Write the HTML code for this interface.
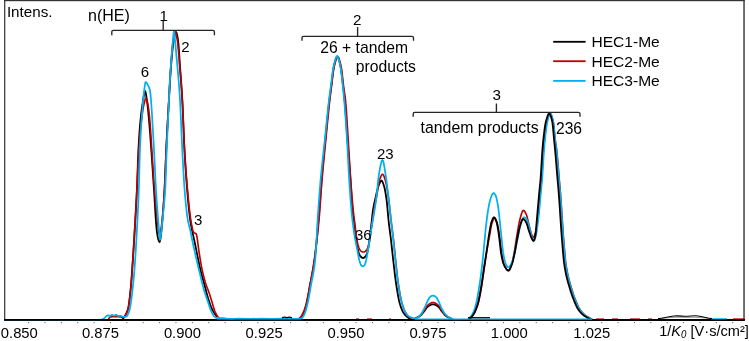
<!DOCTYPE html>
<html><head><meta charset="utf-8"><title>Mobilogram</title>
<style>
html,body{margin:0;padding:0;background:#fff;}
body{width:749px;height:341px;overflow:hidden;position:relative;font-family:"Liberation Sans",Arial,sans-serif;}
svg{position:absolute;left:0;top:0;display:block;}
text{font-family:"Liberation Sans",Arial,sans-serif;fill:#000;}
svg{font-size:15px;}
</style></head><body>
<svg width="749" height="341" viewBox="0 0 749 341">
<rect x="0" y="0" width="749" height="341" fill="#fff"/>
<!-- frame -->
<rect x="4" y="0" width="740.8" height="1.2" fill="#333"/>
<rect x="4.1" y="0" width="1.2" height="320" fill="#333"/>
<rect x="743.3" y="0" width="1.45" height="320" fill="#3c3c3c"/>
<rect x="28.10" y="322" width="1" height="1.2" fill="#666"/><rect x="44.48" y="322" width="1" height="1.2" fill="#666"/><rect x="60.85" y="322" width="1" height="1.2" fill="#666"/><rect x="77.22" y="322" width="1" height="1.2" fill="#666"/><rect x="93.60" y="322" width="1" height="1.2" fill="#666"/><rect x="109.97" y="322" width="1" height="1.2" fill="#666"/><rect x="126.35" y="322" width="1" height="1.2" fill="#666"/><rect x="142.72" y="322" width="1" height="1.2" fill="#666"/><rect x="159.10" y="322" width="1" height="1.2" fill="#666"/><rect x="175.47" y="322" width="1" height="1.2" fill="#666"/><rect x="191.85" y="322" width="1" height="1.2" fill="#666"/><rect x="208.22" y="322" width="1" height="1.2" fill="#666"/><rect x="224.60" y="322" width="1" height="1.2" fill="#666"/><rect x="240.97" y="322" width="1" height="1.2" fill="#666"/><rect x="257.35" y="322" width="1" height="1.2" fill="#666"/><rect x="273.73" y="322" width="1" height="1.2" fill="#666"/><rect x="290.10" y="322" width="1" height="1.2" fill="#666"/><rect x="306.48" y="322" width="1" height="1.2" fill="#666"/><rect x="322.85" y="322" width="1" height="1.2" fill="#666"/><rect x="339.23" y="322" width="1" height="1.2" fill="#666"/><rect x="355.60" y="322" width="1" height="1.2" fill="#666"/><rect x="371.98" y="322" width="1" height="1.2" fill="#666"/><rect x="388.35" y="322" width="1" height="1.2" fill="#666"/><rect x="404.73" y="322" width="1" height="1.2" fill="#666"/><rect x="421.10" y="322" width="1" height="1.2" fill="#666"/><rect x="437.48" y="322" width="1" height="1.2" fill="#666"/><rect x="453.85" y="322" width="1" height="1.2" fill="#666"/><rect x="470.23" y="322" width="1" height="1.2" fill="#666"/><rect x="486.60" y="322" width="1" height="1.2" fill="#666"/><rect x="502.98" y="322" width="1" height="1.2" fill="#666"/><rect x="519.35" y="322" width="1" height="1.2" fill="#666"/><rect x="535.73" y="322" width="1" height="1.2" fill="#666"/><rect x="552.10" y="322" width="1" height="1.2" fill="#666"/><rect x="568.48" y="322" width="1" height="1.2" fill="#666"/><rect x="584.85" y="322" width="1" height="1.2" fill="#666"/><rect x="601.23" y="322" width="1" height="1.2" fill="#666"/><rect x="617.60" y="322" width="1" height="1.2" fill="#666"/><rect x="633.98" y="322" width="1" height="1.2" fill="#666"/><rect x="650.35" y="322" width="1" height="1.2" fill="#666"/><rect x="666.73" y="322" width="1" height="1.2" fill="#666"/><rect x="683.10" y="322" width="1" height="1.2" fill="#666"/><rect x="699.48" y="322" width="1" height="1.2" fill="#666"/><rect x="715.85" y="322" width="1" height="1.2" fill="#666"/><rect x="732.23" y="322" width="1" height="1.2" fill="#666"/>
<!-- axis -->
<rect x="4.1" y="319" width="740.7" height="1.8" fill="#000"/>
<!-- curves -->
<path d="M4.0,319.90 L4.5,319.90 L5.0,319.90 L5.5,319.90 L6.0,319.90 L6.5,319.90 L7.0,319.90 L7.5,319.90 L8.0,319.90 L8.5,319.90 L9.0,319.90 L9.5,319.90 L10.0,319.90 L10.5,319.90 L11.0,319.90 L11.5,319.90 L12.0,319.90 L12.5,319.90 L13.0,319.90 L13.5,319.90 L14.0,319.90 L14.5,319.90 L15.0,319.90 L15.5,319.90 L16.0,319.90 L16.5,319.90 L17.0,319.90 L17.5,319.90 L18.0,319.90 L18.5,319.90 L19.0,319.90 L19.5,319.90 L20.0,319.90 L20.5,319.90 L21.0,319.90 L21.5,319.90 L22.0,319.90 L22.5,319.90 L23.0,319.90 L23.5,319.90 L24.0,319.90 L24.5,319.90 L25.0,319.90 L25.5,319.90 L26.0,319.90 L26.5,319.90 L27.0,319.90 L27.5,319.90 L28.0,319.90 L28.5,319.90 L29.0,319.90 L29.5,319.90 L30.0,319.90 L30.5,319.90 L31.0,319.90 L31.5,319.90 L32.0,319.90 L32.5,319.90 L33.0,319.90 L33.5,319.90 L34.0,319.90 L34.5,319.90 L35.0,319.90 L35.5,319.90 L36.0,319.90 L36.5,319.90 L37.0,319.90 L37.5,319.90 L38.0,319.90 L38.5,319.90 L39.0,319.90 L39.5,319.90 L40.0,319.90 L40.5,319.90 L41.0,319.90 L41.5,319.90 L42.0,319.90 L42.5,319.90 L43.0,319.90 L43.5,319.90 L44.0,319.90 L44.5,319.90 L45.0,319.90 L45.5,319.90 L46.0,319.90 L46.5,319.90 L47.0,319.90 L47.5,319.90 L48.0,319.90 L48.5,319.90 L49.0,319.90 L49.5,319.90 L50.0,319.90 L50.5,319.90 L51.0,319.90 L51.5,319.90 L52.0,319.90 L52.5,319.90 L53.0,319.90 L53.5,319.90 L54.0,319.90 L54.5,319.90 L55.0,319.90 L55.5,319.90 L56.0,319.90 L56.5,319.90 L57.0,319.90 L57.5,319.90 L58.0,319.90 L58.5,319.90 L59.0,319.90 L59.5,319.90 L60.0,319.90 L60.5,319.90 L61.0,319.90 L61.5,319.90 L62.0,319.90 L62.5,319.90 L63.0,319.90 L63.5,319.90 L64.0,319.90 L64.5,319.90 L65.0,319.90 L65.5,319.90 L66.0,319.90 L66.5,319.90 L67.0,319.90 L67.5,319.90 L68.0,319.90 L68.5,319.90 L69.0,319.90 L69.5,319.90 L70.0,319.90 L70.5,319.90 L71.0,319.90 L71.5,319.90 L72.0,319.90 L72.5,319.90 L73.0,319.90 L73.5,319.90 L74.0,319.90 L74.5,319.90 L75.0,319.90 L75.5,319.90 L76.0,319.90 L76.5,319.90 L77.0,319.90 L77.5,319.90 L78.0,319.90 L78.5,319.90 L79.0,319.90 L79.5,319.90 L80.0,319.90 L80.5,319.90 L81.0,319.90 L81.5,319.90 L82.0,319.90 L82.5,319.90 L83.0,319.90 L83.5,319.90 L84.0,319.90 L84.5,319.90 L85.0,319.90 L85.5,319.90 L86.0,319.90 L86.5,319.90 L87.0,319.90 L87.5,319.90 L88.0,319.90 L88.5,319.90 L89.0,319.90 L89.5,319.90 L90.0,319.90 L90.5,319.90 L91.0,319.90 L91.5,319.90 L92.0,319.90 L92.5,319.90 L93.0,319.90 L93.5,319.90 L94.0,319.90 L94.5,319.90 L95.0,319.90 L95.5,319.90 L96.0,319.90 L96.5,319.90 L97.0,319.90 L97.5,319.90 L98.0,319.90 L98.5,319.90 L99.0,319.90 L99.5,319.90 L100.0,319.90 L100.5,319.90 L101.0,319.90 L101.5,319.90 L102.0,319.90 L102.5,319.90 L103.0,319.90 L103.5,319.90 L104.0,319.90 L104.5,319.90 L105.0,319.90 L105.5,319.90 L106.0,319.90 L106.5,319.90 L107.0,319.90 L107.5,319.90 L108.0,319.90 L108.5,319.90 L109.0,319.90 L109.5,319.90 L110.0,319.90 L110.5,319.90 L111.0,319.90 L111.5,319.90 L112.0,319.90 L112.5,319.90 L113.0,319.90 L113.5,319.90 L114.0,319.90 L114.5,319.90 L115.0,319.90 L115.5,319.90 L116.0,319.90 L116.5,319.90 L117.0,319.90 L117.5,319.90 L118.0,319.90 L118.5,319.90 L119.0,319.90 L119.5,319.90 L120.0,319.90 L120.5,319.90 L121.0,319.90 L121.5,319.80 L122.0,319.53 L122.5,319.12 L123.0,318.62 L123.5,318.07 L124.0,317.50 L124.5,316.83 L125.0,315.98 L125.5,315.02 L126.0,314.00 L126.5,312.98 L127.0,311.90 L127.5,310.61 L128.0,309.00 L128.5,306.71 L129.0,303.61 L129.5,299.84 L130.0,295.57 L130.5,290.95 L131.0,285.72 L131.5,279.33 L132.0,272.26 L132.5,265.00 L133.0,257.60 L133.5,249.81 L134.0,241.72 L134.5,233.38 L135.0,224.95 L135.5,216.53 L136.0,207.79 L136.5,198.34 L137.0,187.70 L137.5,173.92 L138.0,159.38 L138.5,148.13 L139.0,139.49 L139.5,131.96 L140.0,125.48 L140.5,120.00 L141.0,115.30 L141.5,111.14 L142.0,107.44 L142.5,104.09 L143.0,101.00 L143.5,97.75 L144.0,94.50 L144.5,92.00 L145.0,91.00 L145.5,91.95 L146.0,94.36 L146.5,97.59 L147.0,101.00 L147.5,104.78 L148.0,109.40 L148.5,114.56 L149.0,120.00 L149.5,125.81 L150.0,132.18 L150.5,138.91 L151.0,145.83 L151.5,152.80 L152.0,160.00 L152.5,167.42 L153.0,174.96 L153.5,182.52 L154.0,190.00 L154.5,197.93 L155.0,206.44 L155.5,214.80 L156.0,222.31 L156.5,228.23 L157.0,232.27 L157.5,235.59 L158.0,238.21 L158.5,240.00 L159.0,241.26 L159.5,241.98 L160.0,241.13 L160.5,238.56 L161.0,235.00 L161.5,230.00 L162.0,224.67 L162.5,218.93 L163.0,212.69 L163.5,205.85 L164.0,198.31 L164.5,190.00 L165.0,179.47 L165.5,166.87 L166.0,154.42 L166.5,143.83 L167.0,133.99 L167.5,124.62 L168.0,115.61 L168.5,106.87 L169.0,98.29 L169.5,89.60 L170.0,81.05 L170.5,73.11 L171.0,66.21 L171.5,60.35 L172.0,54.82 L172.5,49.77 L173.0,45.35 L173.5,41.73 L174.0,38.96 L174.5,36.41 L175.0,34.18 L175.5,32.60 L176.0,32.00 L176.5,32.67 L177.0,34.46 L177.5,37.02 L178.0,40.00 L178.5,44.62 L179.0,51.43 L179.5,59.11 L180.0,66.37 L180.5,73.12 L181.0,79.91 L181.5,87.04 L182.0,94.86 L182.5,103.81 L183.0,115.02 L183.5,127.44 L184.0,139.60 L184.5,150.00 L185.0,158.70 L185.5,166.76 L186.0,174.24 L186.5,181.16 L187.0,187.57 L187.5,193.56 L188.0,199.33 L188.5,204.79 L189.0,209.88 L189.5,214.49 L190.0,218.55 L190.5,221.99 L191.0,224.90 L191.5,227.51 L192.0,230.00 L192.5,232.41 L193.0,234.66 L193.5,236.86 L194.0,239.08 L194.5,241.40 L195.0,243.78 L195.5,246.21 L196.0,248.68 L196.5,251.16 L197.0,253.64 L197.5,256.11 L198.0,258.57 L198.5,260.98 L199.0,263.35 L199.5,265.65 L200.0,267.87 L200.5,270.00 L201.0,272.03 L201.5,273.98 L202.0,275.87 L202.5,277.71 L203.0,279.53 L203.5,281.34 L204.0,283.15 L204.5,285.00 L205.0,286.90 L205.5,288.83 L206.0,290.78 L206.5,292.70 L207.0,294.57 L207.5,296.34 L208.0,298.00 L208.5,299.57 L209.0,301.12 L209.5,302.62 L210.0,304.06 L210.5,305.44 L211.0,306.73 L211.5,307.92 L212.0,309.00 L212.5,309.99 L213.0,310.92 L213.5,311.79 L214.0,312.62 L214.5,313.39 L215.0,314.13 L215.5,314.83 L216.0,315.50 L216.5,316.19 L217.0,316.93 L217.5,317.66 L218.0,318.36 L218.5,318.97 L219.0,319.46 L219.5,319.78 L220.0,319.90 L220.5,319.90 L221.0,319.90 L221.5,319.90 L222.0,319.90 L222.5,319.90 L223.0,319.90 L223.5,319.90 L224.0,319.90 L224.5,319.90 L225.0,319.90 L225.5,319.90 L226.0,319.90 L226.5,319.90 L227.0,319.90 L227.5,319.90 L228.0,319.90 L228.5,319.90 L229.0,319.90 L229.5,319.90 L230.0,319.90 L230.5,319.90 L231.0,319.90 L231.5,319.90 L232.0,319.90 L232.5,319.90 L233.0,319.90 L233.5,319.90 L234.0,319.90 L234.5,319.90 L235.0,319.90 L235.5,319.90 L236.0,319.90 L236.5,319.90 L237.0,319.90 L237.5,319.90 L238.0,319.90 L238.5,319.90 L239.0,319.90 L239.5,319.90 L240.0,319.90 L240.5,319.90 L241.0,319.90 L241.5,319.90 L242.0,319.90 L242.5,319.90 L243.0,319.90 L243.5,319.90 L244.0,319.90 L244.5,319.90 L245.0,319.90 L245.5,319.90 L246.0,319.90 L246.5,319.90 L247.0,319.90 L247.5,319.90 L248.0,319.90 L248.5,319.90 L249.0,319.90 L249.5,319.90 L250.0,319.90 L250.5,319.90 L251.0,319.90 L251.5,319.90 L252.0,319.90 L252.5,319.90 L253.0,319.90 L253.5,319.90 L254.0,319.90 L254.5,319.90 L255.0,319.90 L255.5,319.90 L256.0,319.90 L256.5,319.90 L257.0,319.90 L257.5,319.90 L258.0,319.90 L258.5,319.90 L259.0,319.90 L259.5,319.90 L260.0,319.90 L260.5,319.90 L261.0,319.90 L261.5,319.90 L262.0,319.90 L262.5,319.90 L263.0,319.90 L263.5,319.90 L264.0,319.90 L264.5,319.90 L265.0,319.90 L265.5,319.90 L266.0,319.90 L266.5,319.90 L267.0,319.90 L267.5,319.90 L268.0,319.90 L268.5,319.90 L269.0,319.90 L269.5,319.90 L270.0,319.90 L270.5,319.90 L271.0,319.90 L271.5,319.90 L272.0,319.90 L272.5,319.90 L273.0,319.90 L273.5,319.90 L274.0,319.90 L274.5,319.90 L275.0,319.90 L275.5,319.90 L276.0,319.90 L276.5,319.90 L277.0,319.90 L277.5,319.90 L278.0,319.90 L278.5,319.90 L279.0,319.90 L279.5,319.90 L280.0,319.90 L280.5,319.90 L281.0,319.90 L281.5,319.90 L282.0,319.90 L282.5,319.90 L283.0,319.90 L283.5,319.90 L284.0,319.90 L284.5,319.90 L285.0,319.90 L285.5,319.90 L286.0,319.90 L286.5,319.90 L287.0,319.90 L287.5,319.90 L288.0,319.90 L288.5,319.90 L289.0,319.90 L289.5,319.90 L290.0,319.90 L290.5,319.90 L291.0,319.90 L291.5,319.90 L292.0,319.90 L292.5,319.90 L293.0,319.90 L293.5,319.90 L294.0,319.90 L294.5,319.90 L295.0,319.90 L295.5,319.90 L296.0,319.90 L296.5,319.86 L297.0,319.74 L297.5,319.55 L298.0,319.31 L298.5,319.02 L299.0,318.70 L299.5,318.36 L300.0,318.00 L300.5,317.58 L301.0,317.05 L301.5,316.42 L302.0,315.70 L302.5,314.89 L303.0,314.00 L303.5,312.96 L304.0,311.71 L304.5,310.27 L305.0,308.67 L305.5,306.95 L306.0,305.13 L306.5,303.22 L307.0,301.04 L307.5,298.62 L308.0,296.02 L308.5,293.29 L309.0,290.50 L309.5,287.72 L310.0,285.00 L310.5,282.39 L311.0,279.86 L311.5,277.36 L312.0,274.83 L312.5,272.23 L313.0,269.49 L313.5,266.58 L314.0,263.43 L314.5,260.00 L315.0,256.15 L315.5,251.83 L316.0,247.12 L316.5,242.07 L317.0,236.77 L317.5,231.28 L318.0,225.66 L318.5,220.00 L319.0,214.03 L319.5,207.58 L320.0,200.86 L320.5,194.08 L321.0,187.46 L321.5,181.19 L322.0,175.34 L322.5,169.67 L323.0,164.15 L323.5,158.76 L324.0,153.46 L324.5,148.25 L325.0,143.08 L325.5,137.94 L326.0,132.78 L326.5,127.63 L327.0,122.53 L327.5,117.51 L328.0,112.63 L328.5,107.92 L329.0,103.42 L329.5,99.18 L330.0,95.30 L330.5,91.64 L331.0,88.00 L331.5,84.08 L332.0,79.90 L332.5,75.75 L333.0,71.87 L333.5,68.53 L334.0,66.00 L334.5,63.96 L335.0,61.98 L335.5,60.17 L336.0,58.62 L336.5,57.43 L337.0,56.69 L337.5,56.52 L338.0,57.01 L338.5,58.12 L339.0,59.70 L339.5,61.63 L340.0,63.78 L340.5,66.00 L341.0,68.72 L341.5,72.28 L342.0,76.41 L342.5,80.86 L343.0,85.37 L343.5,89.71 L344.0,94.09 L344.5,98.94 L345.0,104.64 L345.5,111.17 L346.0,118.27 L346.5,125.63 L347.0,132.97 L347.5,140.00 L348.0,146.69 L348.5,153.25 L349.0,159.77 L349.5,166.34 L350.0,173.06 L350.5,180.00 L351.0,187.74 L351.5,196.04 L352.0,203.83 L352.5,210.00 L353.0,214.42 L353.5,218.02 L354.0,221.37 L354.5,225.00 L355.0,229.19 L355.5,233.57 L356.0,237.76 L356.5,241.39 L357.0,244.67 L357.5,247.51 L358.0,249.87 L358.5,251.94 L359.0,253.50 L359.5,254.67 L360.0,255.67 L360.5,256.47 L361.0,257.00 L361.5,257.38 L362.0,257.69 L362.5,257.92 L363.0,258.00 L363.5,257.92 L364.0,257.69 L364.5,257.38 L365.0,257.00 L365.5,256.47 L366.0,255.69 L366.5,254.69 L367.0,253.50 L367.5,251.82 L368.0,249.53 L368.5,246.89 L369.0,243.63 L369.5,240.00 L370.0,236.11 L370.5,231.92 L371.0,227.59 L371.5,223.22 L372.0,218.46 L372.5,213.82 L373.0,210.00 L373.5,207.07 L374.0,204.55 L374.5,202.28 L375.0,200.14 L375.5,198.00 L376.0,195.76 L376.5,193.50 L377.0,191.29 L377.5,189.24 L378.0,187.45 L378.5,186.00 L379.0,184.74 L379.5,183.50 L380.0,182.37 L380.5,181.45 L381.0,180.83 L381.5,180.60 L382.0,180.92 L382.5,181.76 L383.0,182.99 L383.5,184.45 L384.0,186.00 L384.5,187.79 L385.0,190.07 L385.5,192.78 L386.0,195.86 L386.5,199.28 L387.0,203.48 L387.5,208.97 L388.0,214.79 L388.5,220.00 L389.0,224.33 L389.5,228.29 L390.0,232.09 L390.5,235.92 L391.0,240.00 L391.5,244.41 L392.0,249.03 L392.5,253.69 L393.0,258.25 L393.5,262.61 L394.0,267.02 L394.5,271.37 L395.0,275.56 L395.5,279.48 L396.0,283.00 L396.5,286.26 L397.0,289.44 L397.5,292.48 L398.0,295.36 L398.5,298.02 L399.0,300.43 L399.5,302.55 L400.0,304.33 L400.5,305.92 L401.0,307.39 L401.5,308.74 L402.0,309.97 L402.5,311.06 L403.0,312.03 L403.5,312.85 L404.0,313.56 L404.5,314.22 L405.0,314.83 L405.5,315.38 L406.0,315.89 L406.5,316.35 L407.0,316.77 L407.5,317.15 L408.0,317.50 L408.5,317.83 L409.0,318.17 L409.5,318.50 L410.0,318.82 L410.5,319.11 L411.0,319.37 L411.5,319.59 L412.0,319.76 L412.5,319.86 L413.0,319.90 L413.5,319.80 L414.0,319.53 L414.5,319.16 L415.0,318.74 L415.5,318.34 L416.0,318.00 L416.5,317.74 L417.0,317.50 L417.5,317.28 L418.0,317.07 L418.5,316.84 L419.0,316.60 L419.5,316.32 L420.0,316.00 L420.5,315.61 L421.0,315.13 L421.5,314.59 L422.0,314.00 L422.5,313.37 L423.0,312.74 L423.5,312.11 L424.0,311.50 L424.5,310.87 L425.0,310.18 L425.5,309.46 L426.0,308.74 L426.5,308.05 L427.0,307.43 L427.5,306.90 L428.0,306.50 L428.5,306.17 L429.0,305.85 L429.5,305.54 L430.0,305.25 L430.5,304.99 L431.0,304.76 L431.5,304.57 L432.0,304.42 L432.5,304.33 L433.0,304.30 L433.5,304.33 L434.0,304.42 L434.5,304.57 L435.0,304.76 L435.5,304.99 L436.0,305.25 L436.5,305.54 L437.0,305.85 L437.5,306.17 L438.0,306.50 L438.5,306.90 L439.0,307.43 L439.5,308.05 L440.0,308.74 L440.5,309.46 L441.0,310.18 L441.5,310.87 L442.0,311.50 L442.5,312.11 L443.0,312.74 L443.5,313.37 L444.0,314.00 L444.5,314.59 L445.0,315.13 L445.5,315.61 L446.0,316.00 L446.5,316.32 L447.0,316.61 L447.5,316.87 L448.0,317.10 L448.5,317.33 L449.0,317.54 L449.5,317.77 L450.0,318.00 L450.5,318.27 L451.0,318.57 L451.5,318.89 L452.0,319.19 L452.5,319.47 L453.0,319.69 L453.5,319.85 L454.0,319.90 L454.5,319.90 L455.0,319.90 L455.5,319.90 L456.0,319.90 L456.5,319.90 L457.0,319.90 L457.5,319.90 L458.0,319.90 L458.5,319.90 L459.0,319.90 L459.5,319.90 L460.0,319.90" fill="none" stroke="#000" stroke-width="1.8" stroke-linejoin="round"/>
<path d="M4.0,319.90 L4.5,319.90 L5.0,319.90 L5.5,319.90 L6.0,319.90 L6.5,319.90 L7.0,319.90 L7.5,319.90 L8.0,319.90 L8.5,319.90 L9.0,319.90 L9.5,319.90 L10.0,319.90 L10.5,319.90 L11.0,319.90 L11.5,319.90 L12.0,319.90 L12.5,319.90 L13.0,319.90 L13.5,319.90 L14.0,319.90 L14.5,319.90 L15.0,319.90 L15.5,319.90 L16.0,319.90 L16.5,319.90 L17.0,319.90 L17.5,319.90 L18.0,319.90 L18.5,319.90 L19.0,319.90 L19.5,319.90 L20.0,319.90 L20.5,319.90 L21.0,319.90 L21.5,319.90 L22.0,319.90 L22.5,319.90 L23.0,319.90 L23.5,319.90 L24.0,319.90 L24.5,319.90 L25.0,319.90 L25.5,319.90 L26.0,319.90 L26.5,319.90 L27.0,319.90 L27.5,319.90 L28.0,319.90 L28.5,319.90 L29.0,319.90 L29.5,319.90 L30.0,319.90 L30.5,319.90 L31.0,319.90 L31.5,319.90 L32.0,319.90 L32.5,319.90 L33.0,319.90 L33.5,319.90 L34.0,319.90 L34.5,319.90 L35.0,319.90 L35.5,319.90 L36.0,319.90 L36.5,319.90 L37.0,319.90 L37.5,319.90 L38.0,319.90 L38.5,319.90 L39.0,319.90 L39.5,319.90 L40.0,319.90 L40.5,319.90 L41.0,319.90 L41.5,319.90 L42.0,319.90 L42.5,319.90 L43.0,319.90 L43.5,319.90 L44.0,319.90 L44.5,319.90 L45.0,319.90 L45.5,319.90 L46.0,319.90 L46.5,319.90 L47.0,319.90 L47.5,319.90 L48.0,319.90 L48.5,319.90 L49.0,319.90 L49.5,319.90 L50.0,319.90 L50.5,319.90 L51.0,319.90 L51.5,319.90 L52.0,319.90 L52.5,319.90 L53.0,319.90 L53.5,319.90 L54.0,319.90 L54.5,319.90 L55.0,319.90 L55.5,319.90 L56.0,319.90 L56.5,319.90 L57.0,319.90 L57.5,319.90 L58.0,319.90 L58.5,319.90 L59.0,319.90 L59.5,319.90 L60.0,319.90 L60.5,319.90 L61.0,319.90 L61.5,319.90 L62.0,319.90 L62.5,319.90 L63.0,319.90 L63.5,319.90 L64.0,319.90 L64.5,319.90 L65.0,319.90 L65.5,319.90 L66.0,319.90 L66.5,319.90 L67.0,319.90 L67.5,319.90 L68.0,319.90 L68.5,319.90 L69.0,319.90 L69.5,319.90 L70.0,319.90 L70.5,319.90 L71.0,319.90 L71.5,319.90 L72.0,319.90 L72.5,319.90 L73.0,319.90 L73.5,319.90 L74.0,319.90 L74.5,319.90 L75.0,319.90 L75.5,319.90 L76.0,319.90 L76.5,319.90 L77.0,319.90 L77.5,319.90 L78.0,319.90 L78.5,319.90 L79.0,319.90 L79.5,319.90 L80.0,319.90 L80.5,319.90 L81.0,319.90 L81.5,319.90 L82.0,319.90 L82.5,319.90 L83.0,319.90 L83.5,319.90 L84.0,319.90 L84.5,319.90 L85.0,319.90 L85.5,319.90 L86.0,319.90 L86.5,319.90 L87.0,319.90 L87.5,319.90 L88.0,319.90 L88.5,319.90 L89.0,319.90 L89.5,319.90 L90.0,319.90 L90.5,319.90 L91.0,319.90 L91.5,319.90 L92.0,319.90 L92.5,319.90 L93.0,319.90 L93.5,319.90 L94.0,319.90 L94.5,319.90 L95.0,319.90 L95.5,319.90 L96.0,319.90 L96.5,319.90 L97.0,319.90 L97.5,319.90 L98.0,319.90 L98.5,319.90 L99.0,319.90 L99.5,319.90 L100.0,319.90 L100.5,319.90 L101.0,319.90 L101.5,319.90 L102.0,319.90 L102.5,319.90 L103.0,319.90 L103.5,319.90 L104.0,319.90 L104.5,319.90 L105.0,319.90 L105.5,319.90 L106.0,319.90 L106.5,319.90 L107.0,319.90 L107.5,319.90 L108.0,319.90 L108.5,319.46 L109.0,318.49 L109.5,317.50 L110.0,317.00 L110.5,316.93 L111.0,316.87 L111.5,316.81 L112.0,316.76 L112.5,316.72 L113.0,316.69 L113.5,316.66 L114.0,316.64 L114.5,316.62 L115.0,316.61 L115.5,316.60 L116.0,316.60 L116.5,316.61 L117.0,316.62 L117.5,316.65 L118.0,316.68 L118.5,316.73 L119.0,316.77 L119.5,316.83 L120.0,316.88 L120.5,316.94 L121.0,317.00 L121.5,317.09 L122.0,317.22 L122.5,317.35 L123.0,317.46 L123.5,317.50 L124.0,317.28 L124.5,316.70 L125.0,315.88 L125.5,314.94 L126.0,314.00 L126.5,313.05 L127.0,311.96 L127.5,310.64 L128.0,309.00 L128.5,306.71 L129.0,303.61 L129.5,299.84 L130.0,295.57 L130.5,290.95 L131.0,285.72 L131.5,279.33 L132.0,272.26 L132.5,265.00 L133.0,257.60 L133.5,249.81 L134.0,241.72 L134.5,233.38 L135.0,224.86 L135.5,216.10 L136.0,207.06 L136.5,197.71 L137.0,188.00 L137.5,176.98 L138.0,165.46 L138.5,155.05 L139.0,147.10 L139.5,140.40 L140.0,134.42 L140.5,129.08 L141.0,124.30 L141.5,120.00 L142.0,116.04 L142.5,112.38 L143.0,109.12 L143.5,106.37 L144.0,104.15 L144.5,102.01 L145.0,100.10 L145.5,98.73 L146.0,98.20 L146.5,98.81 L147.0,100.38 L147.5,102.57 L148.0,105.00 L148.5,108.03 L149.0,112.07 L149.5,116.87 L150.0,122.30 L150.5,129.27 L151.0,137.27 L151.5,145.41 L152.0,152.95 L152.5,160.44 L153.0,167.95 L153.5,175.29 L154.0,182.30 L154.5,188.78 L155.0,194.82 L155.5,200.81 L156.0,206.63 L156.5,212.17 L157.0,217.32 L157.5,221.95 L158.0,225.95 L158.5,229.31 L159.0,232.60 L159.5,234.94 L160.0,235.16 L160.5,232.91 L161.0,229.42 L161.5,225.80 L162.0,221.57 L162.5,216.64 L163.0,211.01 L163.5,204.69 L164.0,197.69 L164.5,190.00 L165.0,179.83 L165.5,167.11 L166.0,154.45 L166.5,143.86 L167.0,134.14 L167.5,124.91 L168.0,115.97 L168.5,107.13 L169.0,98.19 L169.5,88.86 L170.0,79.55 L170.5,70.94 L171.0,63.66 L171.5,57.11 L172.0,51.06 L172.5,45.73 L173.0,41.40 L173.5,38.02 L174.0,34.86 L174.5,32.45 L175.0,31.50 L175.5,32.06 L176.0,33.57 L176.5,35.75 L177.0,38.35 L177.5,41.27 L178.0,45.66 L178.5,51.30 L179.0,57.55 L179.5,63.81 L180.0,69.66 L180.5,75.46 L181.0,81.48 L181.5,87.97 L182.0,95.20 L182.5,103.64 L183.0,114.80 L183.5,127.46 L184.0,139.80 L184.5,150.00 L185.0,158.12 L185.5,165.50 L186.0,172.27 L186.5,178.53 L187.0,184.41 L187.5,190.00 L188.0,195.41 L188.5,200.62 L189.0,205.56 L189.5,210.15 L190.0,214.32 L190.5,218.00 L191.0,221.21 L191.5,224.05 L192.0,226.59 L192.5,228.96 L193.0,231.23 L193.5,232.24 L194.0,232.66 L194.5,232.95 L195.0,233.17 L195.5,233.32 L196.0,233.60 L196.5,234.82 L197.0,237.00 L197.5,240.31 L198.0,244.48 L198.5,248.11 L199.0,251.56 L199.5,254.88 L200.0,258.00 L200.5,260.97 L201.0,263.83 L201.5,266.54 L202.0,269.06 L202.5,271.37 L203.0,273.57 L203.5,275.67 L204.0,277.67 L204.5,279.55 L205.0,281.33 L205.5,283.00 L206.0,284.53 L206.5,285.93 L207.0,287.24 L207.5,288.52 L208.0,289.81 L208.5,291.15 L209.0,292.59 L209.5,294.08 L210.0,295.62 L210.5,297.19 L211.0,298.78 L211.5,300.39 L212.0,302.00 L212.5,303.70 L213.0,305.48 L213.5,307.24 L214.0,308.87 L214.5,310.26 L215.0,311.51 L215.5,312.67 L216.0,313.74 L216.5,314.69 L217.0,315.50 L217.5,316.26 L218.0,317.02 L218.5,317.76 L219.0,318.44 L219.5,319.03 L220.0,319.49 L220.5,319.79 L221.0,319.90 L221.5,319.90 L222.0,319.90 L222.5,319.90 L223.0,319.90 L223.5,319.90 L224.0,319.90 L224.5,319.90 L225.0,319.90 L225.5,319.90 L226.0,319.90 L226.5,319.90 L227.0,319.90 L227.5,319.90 L228.0,319.90 L228.5,319.90 L229.0,319.90 L229.5,319.90 L230.0,319.90 L230.5,319.90 L231.0,319.90 L231.5,319.90 L232.0,319.90 L232.5,319.90 L233.0,319.90 L233.5,319.90 L234.0,319.90 L234.5,319.90 L235.0,319.90 L235.5,319.90 L236.0,319.90 L236.5,319.90 L237.0,319.90 L237.5,319.90 L238.0,319.90 L238.5,319.90 L239.0,319.90 L239.5,319.90 L240.0,319.90 L240.5,319.90 L241.0,319.90 L241.5,319.90 L242.0,319.90 L242.5,319.90 L243.0,319.90 L243.5,319.90 L244.0,319.90 L244.5,319.90 L245.0,319.90 L245.5,319.90 L246.0,319.90 L246.5,319.90 L247.0,319.90 L247.5,319.90 L248.0,319.90 L248.5,319.90 L249.0,319.90 L249.5,319.90 L250.0,319.90 L250.5,319.90 L251.0,319.90 L251.5,319.90 L252.0,319.90 L252.5,319.90 L253.0,319.90 L253.5,319.90 L254.0,319.90 L254.5,319.90 L255.0,319.90 L255.5,319.90 L256.0,319.90 L256.5,319.90 L257.0,319.90 L257.5,319.90 L258.0,319.90 L258.5,319.90 L259.0,319.90 L259.5,319.90 L260.0,319.90 L260.5,319.90 L261.0,319.90 L261.5,319.90 L262.0,319.90 L262.5,319.90 L263.0,319.90 L263.5,319.90 L264.0,319.90 L264.5,319.90 L265.0,319.90 L265.5,319.90 L266.0,319.90 L266.5,319.90 L267.0,319.90 L267.5,319.90 L268.0,319.90 L268.5,319.90 L269.0,319.90 L269.5,319.90 L270.0,319.90 L270.5,319.90 L271.0,319.90 L271.5,319.90 L272.0,319.90 L272.5,319.90 L273.0,319.90 L273.5,319.90 L274.0,319.90 L274.5,319.90 L275.0,319.90 L275.5,319.90 L276.0,319.90 L276.5,319.90 L277.0,319.90 L277.5,319.90 L278.0,319.90 L278.5,319.90 L279.0,319.90 L279.5,319.90 L280.0,319.90 L280.5,319.90 L281.0,319.90 L281.5,319.90 L282.0,319.90 L282.5,319.90 L283.0,319.90 L283.5,319.90 L284.0,319.90 L284.5,319.90 L285.0,319.90 L285.5,319.90 L286.0,319.90 L286.5,319.90 L287.0,319.90 L287.5,319.90 L288.0,319.90 L288.5,319.90 L289.0,319.90 L289.5,319.90 L290.0,319.90 L290.5,319.90 L291.0,319.90 L291.5,319.90 L292.0,319.90 L292.5,319.90 L293.0,319.90 L293.5,319.90 L294.0,319.90 L294.5,319.90 L295.0,319.90 L295.5,319.87 L296.0,319.80 L296.5,319.67 L297.0,319.51 L297.5,319.30 L298.0,319.06 L298.5,318.80 L299.0,318.51 L299.5,318.19 L300.0,317.85 L300.5,317.34 L301.0,316.67 L301.5,315.86 L302.0,314.96 L302.5,313.99 L303.0,313.00 L303.5,311.96 L304.0,310.81 L304.5,309.54 L305.0,308.17 L305.5,306.67 L306.0,305.04 L306.5,303.26 L307.0,301.17 L307.5,298.79 L308.0,296.19 L308.5,293.44 L309.0,290.61 L309.5,287.78 L310.0,285.00 L310.5,282.29 L311.0,279.60 L311.5,276.88 L312.0,274.12 L312.5,271.28 L313.0,268.34 L313.5,265.27 L314.0,262.03 L314.5,258.61 L315.0,255.05 L315.5,251.33 L316.0,247.46 L316.5,243.41 L317.0,239.17 L317.5,234.72 L318.0,230.05 L318.5,225.15 L319.0,220.00 L319.5,214.19 L320.0,207.56 L320.5,200.47 L321.0,193.28 L321.5,186.33 L322.0,180.00 L322.5,174.23 L323.0,168.72 L323.5,163.40 L324.0,158.23 L324.5,153.16 L325.0,148.12 L325.5,143.06 L326.0,137.94 L326.5,132.75 L327.0,127.53 L327.5,122.33 L328.0,117.20 L328.5,112.18 L329.0,107.32 L329.5,102.67 L330.0,98.28 L330.5,94.20 L331.0,90.30 L331.5,86.43 L332.0,82.28 L332.5,78.04 L333.0,73.97 L333.5,70.31 L334.0,67.35 L334.5,65.23 L335.0,63.34 L335.5,61.55 L336.0,59.96 L336.5,58.63 L337.0,57.65 L337.5,57.10 L338.0,57.05 L338.5,57.60 L339.0,58.67 L339.5,60.15 L340.0,61.93 L340.5,63.92 L341.0,66.00 L341.5,68.72 L342.0,72.44 L342.5,76.77 L343.0,81.30 L343.5,85.65 L344.0,89.42 L344.5,92.64 L345.0,95.95 L345.5,100.00 L346.0,105.54 L346.5,112.50 L347.0,120.38 L347.5,128.67 L348.0,136.86 L348.5,144.73 L349.0,152.97 L349.5,161.36 L350.0,169.54 L350.5,177.18 L351.0,184.07 L351.5,190.63 L352.0,196.85 L352.5,202.66 L353.0,208.01 L353.5,212.81 L354.0,217.10 L354.5,221.09 L355.0,225.00 L355.5,229.04 L356.0,233.07 L356.5,236.82 L357.0,240.00 L357.5,242.67 L358.0,244.93 L358.5,246.62 L359.0,248.02 L359.5,249.17 L360.0,250.00 L360.5,250.60 L361.0,251.09 L361.5,251.45 L362.0,251.68 L362.5,251.86 L363.0,251.98 L363.5,251.99 L364.0,251.89 L364.5,251.72 L365.0,251.51 L365.5,251.17 L366.0,250.71 L366.5,250.13 L367.0,249.36 L367.5,248.27 L368.0,246.92 L368.5,245.31 L369.0,243.13 L369.5,240.54 L370.0,237.65 L370.5,234.30 L371.0,230.71 L371.5,227.10 L372.0,223.62 L372.5,220.09 L373.0,216.55 L373.5,213.14 L374.0,210.00 L374.5,207.18 L375.0,204.58 L375.5,202.10 L376.0,199.63 L376.5,197.07 L377.0,194.27 L377.5,191.07 L378.0,187.75 L378.5,184.59 L379.0,181.91 L379.5,180.00 L380.0,178.60 L380.5,177.27 L381.0,176.10 L381.5,175.16 L382.0,174.50 L382.5,174.21 L383.0,174.40 L383.5,175.12 L384.0,176.27 L384.5,177.71 L385.0,179.33 L385.5,181.00 L386.0,182.91 L386.5,185.27 L387.0,188.02 L387.5,191.08 L388.0,194.39 L388.5,197.86 L389.0,201.51 L389.5,205.82 L390.0,210.60 L390.5,215.45 L391.0,220.00 L391.5,224.11 L392.0,228.02 L392.5,231.87 L393.0,235.81 L393.5,240.00 L394.0,244.56 L394.5,249.39 L395.0,254.29 L395.5,259.07 L396.0,263.75 L396.5,268.53 L397.0,273.23 L397.5,277.65 L398.0,281.60 L398.5,284.99 L399.0,288.19 L399.5,291.23 L400.0,294.08 L400.5,296.74 L401.0,299.18 L401.5,301.37 L402.0,303.30 L402.5,304.99 L403.0,306.56 L403.5,308.00 L404.0,309.33 L404.5,310.53 L405.0,311.60 L405.5,312.52 L406.0,313.30 L406.5,314.00 L407.0,314.63 L407.5,315.21 L408.0,315.75 L408.5,316.23 L409.0,316.69 L409.5,317.11 L410.0,317.50 L410.5,317.90 L411.0,318.31 L411.5,318.71 L412.0,319.08 L412.5,319.41 L413.0,319.67 L413.5,319.84 L414.0,319.90 L414.5,319.76 L415.0,319.41 L415.5,318.93 L416.0,318.43 L416.5,318.00 L417.0,317.65 L417.5,317.31 L418.0,316.99 L418.5,316.66 L419.0,316.31 L419.5,315.93 L420.0,315.50 L420.5,315.01 L421.0,314.46 L421.5,313.85 L422.0,313.20 L422.5,312.53 L423.0,311.85 L423.5,311.17 L424.0,310.50 L424.5,309.80 L425.0,309.04 L425.5,308.25 L426.0,307.47 L426.5,306.72 L427.0,306.03 L427.5,305.45 L428.0,305.00 L428.5,304.63 L429.0,304.26 L429.5,303.91 L430.0,303.58 L430.5,303.28 L431.0,303.02 L431.5,302.80 L432.0,302.64 L432.5,302.54 L433.0,302.50 L433.5,302.54 L434.0,302.64 L434.5,302.80 L435.0,303.02 L435.5,303.28 L436.0,303.58 L436.5,303.91 L437.0,304.26 L437.5,304.63 L438.0,305.00 L438.5,305.45 L439.0,306.03 L439.5,306.72 L440.0,307.47 L440.5,308.25 L441.0,309.04 L441.5,309.80 L442.0,310.50 L442.5,311.17 L443.0,311.86 L443.5,312.56 L444.0,313.24 L444.5,313.89 L445.0,314.50 L445.5,315.04 L446.0,315.50 L446.5,315.90 L447.0,316.26 L447.5,316.59 L448.0,316.90 L448.5,317.19 L449.0,317.46 L449.5,317.73 L450.0,318.00 L450.5,318.29 L451.0,318.60 L451.5,318.92 L452.0,319.22 L452.5,319.49 L453.0,319.70 L453.5,319.85 L454.0,319.90 L454.5,319.90 L455.0,319.90 L455.5,319.90 L456.0,319.90 L456.5,319.90 L457.0,319.90 L457.5,319.90 L458.0,319.90 L458.5,319.90 L459.0,319.90 L459.5,319.90 L460.0,319.90 L460.5,319.90 L461.0,319.90 L461.5,319.90 L462.0,319.90 L462.5,319.90 L463.0,319.90 L463.5,319.90 L464.0,319.90 L464.5,319.90 L465.0,319.90 L465.5,319.90 L466.0,319.90 L466.5,319.90 L467.0,319.90 L467.5,319.90 L468.0,319.90 L468.5,319.79 L469.0,319.50 L469.5,319.07 L470.0,318.57 L470.5,318.02 L471.0,317.50 L471.5,316.97 L472.0,316.39 L472.5,315.76 L473.0,315.06 L473.5,314.31 L474.0,313.50 L474.5,312.62 L475.0,311.67 L475.5,310.64 L476.0,309.52 L476.5,308.30 L477.0,306.98 L477.5,305.55 L478.0,304.00 L478.5,302.21 L479.0,300.11 L479.5,297.74 L480.0,295.18 L480.5,292.48 L481.0,289.69 L481.5,286.85 L482.0,283.76 L482.5,280.45 L483.0,277.00 L483.5,273.50 L484.0,270.03 L484.5,266.66 L485.0,263.25 L485.5,259.83 L486.0,256.43 L486.5,253.14 L487.0,250.00 L487.5,247.03 L488.0,244.18 L488.5,241.41 L489.0,238.70 L489.5,236.00 L490.0,233.15 L490.5,230.16 L491.0,227.30 L491.5,224.82 L492.0,223.00 L492.5,221.60 L493.0,220.28 L493.5,219.17 L494.0,218.38 L494.5,218.01 L495.0,218.18 L495.5,218.85 L496.0,219.88 L496.5,221.14 L497.0,222.50 L497.5,224.20 L498.0,226.48 L498.5,229.19 L499.0,232.20 L499.5,235.36 L500.0,238.94 L500.5,243.33 L501.0,247.91 L501.5,252.02 L502.0,255.14 L502.5,257.89 L503.0,260.40 L503.5,262.55 L504.0,264.25 L504.5,265.43 L505.0,266.46 L505.5,267.42 L506.0,268.30 L506.5,269.07 L507.0,269.71 L507.5,270.19 L508.0,270.49 L508.5,270.60 L509.0,270.37 L509.5,269.72 L510.0,268.74 L510.5,267.49 L511.0,266.07 L511.5,264.55 L512.0,263.00 L512.5,261.19 L513.0,258.92 L513.5,256.35 L514.0,253.64 L514.5,250.88 L515.0,247.86 L515.5,244.62 L516.0,241.30 L516.5,238.04 L517.0,235.00 L517.5,232.05 L518.0,229.05 L518.5,226.13 L519.0,223.40 L519.5,220.98 L520.0,219.00 L520.5,217.24 L521.0,215.48 L521.5,213.84 L522.0,212.40 L522.5,211.28 L523.0,210.59 L523.5,210.41 L524.0,210.64 L524.5,211.17 L525.0,211.93 L525.5,212.86 L526.0,213.91 L526.5,215.00 L527.0,216.44 L527.5,218.40 L528.0,220.64 L528.5,222.92 L529.0,225.00 L529.5,226.96 L530.0,228.96 L530.5,230.88 L531.0,232.60 L531.5,234.00 L532.0,235.25 L532.5,236.43 L533.0,237.26 L533.5,237.48 L534.0,236.86 L534.5,235.59 L535.0,233.99 L535.5,232.31 L536.0,230.21 L536.5,227.64 L537.0,224.68 L537.5,221.39 L538.0,217.69 L538.5,213.08 L539.0,207.79 L539.5,202.15 L540.0,196.46 L540.5,191.03 L541.0,186.17 L541.5,181.16 L542.0,174.44 L542.5,166.07 L543.0,157.45 L543.5,150.00 L544.0,144.02 L544.5,139.10 L545.0,134.67 L545.5,130.52 L546.0,126.84 L546.5,123.82 L547.0,121.62 L547.5,119.77 L548.0,118.03 L548.5,116.48 L549.0,115.21 L549.5,114.31 L550.0,113.84 L550.5,113.90 L551.0,114.49 L551.5,115.55 L552.0,116.99 L552.5,118.74 L553.0,120.72 L553.5,123.10 L554.0,127.47 L554.5,133.01 L555.0,138.28 L555.5,142.14 L556.0,145.21 L556.5,148.45 L557.0,152.70 L557.5,158.01 L558.0,164.01 L558.5,170.31 L559.0,176.50 L559.5,182.21 L560.0,187.65 L560.5,193.81 L561.0,200.74 L561.5,208.16 L562.0,215.81 L562.5,223.42 L563.0,230.74 L563.5,237.51 L564.0,243.67 L564.5,249.80 L565.0,255.59 L565.5,260.66 L566.0,264.60 L566.5,267.70 L567.0,270.51 L567.5,273.08 L568.0,275.43 L568.5,277.58 L569.0,279.58 L569.5,281.46 L570.0,283.23 L570.5,284.94 L571.0,286.62 L571.5,288.29 L572.0,289.97 L572.5,291.60 L573.0,293.16 L573.5,294.65 L574.0,296.07 L574.5,297.43 L575.0,298.74 L575.5,300.00 L576.0,301.23 L576.5,302.45 L577.0,303.63 L577.5,304.78 L578.0,305.87 L578.5,306.89 L579.0,307.83 L579.5,308.69 L580.0,309.45 L580.5,310.17 L581.0,310.84 L581.5,311.48 L582.0,312.09 L582.5,312.66 L583.0,313.19 L583.5,313.69 L584.0,314.16 L584.5,314.60 L585.0,315.01 L585.5,315.40 L586.0,315.76 L586.5,316.10 L587.0,316.43 L587.5,316.74 L588.0,317.04 L588.5,317.32 L589.0,317.60 L589.5,317.89 L590.0,318.19 L590.5,318.50 L591.0,318.80 L591.5,319.09 L592.0,319.35 L592.5,319.58 L593.0,319.75 L593.5,319.86 L594.0,319.90 L594.5,319.90 L595.0,319.90 L595.5,319.90 L596.0,319.90 L596.5,319.90 L597.0,319.90 L597.5,319.90 L598.0,319.90 L598.5,319.90 L599.0,319.90 L599.5,319.90 L600.0,319.90 L600.5,319.90 L601.0,319.90 L601.5,319.90 L602.0,319.90 L602.5,319.90 L603.0,319.90 L603.5,319.90 L604.0,319.90 L604.5,319.90 L605.0,319.90 L605.5,319.90 L606.0,319.90 L606.5,319.90 L607.0,319.90 L607.5,319.90 L608.0,319.90 L608.5,319.90 L609.0,319.90 L609.5,319.90 L610.0,319.90 L610.5,319.90 L611.0,319.90 L611.5,319.90 L612.0,319.90 L612.5,319.90 L613.0,319.90 L613.5,319.90 L614.0,319.90 L614.5,319.90 L615.0,319.90 L615.5,319.90 L616.0,319.90 L616.5,319.90 L617.0,319.90 L617.5,319.90 L618.0,319.90 L618.5,319.90 L619.0,319.90 L619.5,319.90 L620.0,319.90 L620.5,319.90 L621.0,319.90 L621.5,319.90 L622.0,319.90 L622.5,319.90 L623.0,319.90 L623.5,319.90 L624.0,319.90 L624.5,319.90 L625.0,319.90 L625.5,319.90 L626.0,319.90 L626.5,319.90 L627.0,319.90 L627.5,319.90 L628.0,319.90 L628.5,319.90 L629.0,319.90 L629.5,319.90 L630.0,319.90 L630.5,319.90 L631.0,319.90 L631.5,319.90 L632.0,319.90 L632.5,319.90 L633.0,319.90 L633.5,319.90 L634.0,319.90 L634.5,319.90 L635.0,319.90 L635.5,319.90 L636.0,319.90 L636.5,319.90 L637.0,319.90 L637.5,319.90 L638.0,319.90 L638.5,319.90 L639.0,319.90 L639.5,319.90 L640.0,319.90 L640.5,319.90 L641.0,319.90 L641.5,319.90 L642.0,319.90 L642.5,319.90 L643.0,319.90 L643.5,319.90 L644.0,319.90 L644.5,319.90 L645.0,319.90 L645.5,319.90 L646.0,319.90 L646.5,319.90 L647.0,319.90 L647.5,319.90 L648.0,319.90 L648.5,319.90 L649.0,319.90 L649.5,319.90 L650.0,319.90 L650.5,319.90 L651.0,319.90 L651.5,319.90 L652.0,319.90 L652.5,319.90 L653.0,319.90 L653.5,319.90 L654.0,319.90 L654.5,319.90 L655.0,319.90 L655.5,319.90 L656.0,319.90 L656.5,319.90 L657.0,319.90 L657.5,319.90 L658.0,319.90 L658.5,319.90 L659.0,319.90 L659.5,319.90 L660.0,319.90 L660.5,319.90 L661.0,319.90 L661.5,319.90 L662.0,319.90 L662.5,319.90 L663.0,319.90 L663.5,319.90 L664.0,319.90 L664.5,319.90 L665.0,319.90 L665.5,319.90 L666.0,319.90 L666.5,319.90 L667.0,319.90 L667.5,319.90 L668.0,319.90 L668.5,319.90 L669.0,319.90 L669.5,319.90 L670.0,319.90 L670.5,319.90 L671.0,319.90 L671.5,319.90 L672.0,319.90 L672.5,319.90 L673.0,319.90 L673.5,319.90 L674.0,319.90 L674.5,319.90 L675.0,319.90 L675.5,319.90 L676.0,319.90 L676.5,319.90 L677.0,319.90 L677.5,319.90 L678.0,319.90 L678.5,319.90 L679.0,319.90 L679.5,319.90 L680.0,319.90 L680.5,319.90 L681.0,319.90 L681.5,319.90 L682.0,319.90 L682.5,319.90 L683.0,319.90 L683.5,319.90 L684.0,319.90 L684.5,319.90 L685.0,319.90 L685.5,319.90 L686.0,319.90 L686.5,319.90 L687.0,319.90 L687.5,319.90 L688.0,319.90 L688.5,319.90 L689.0,319.90 L689.5,319.90 L690.0,319.90 L690.5,319.90 L691.0,319.90 L691.5,319.90 L692.0,319.90 L692.5,319.90 L693.0,319.90 L693.5,319.90 L694.0,319.90 L694.5,319.90 L695.0,319.90 L695.5,319.90 L696.0,319.90 L696.5,319.90 L697.0,319.90 L697.5,319.90 L698.0,319.90 L698.5,319.90 L699.0,319.90 L699.5,319.90 L700.0,319.90 L700.5,319.90 L701.0,319.90 L701.5,319.90 L702.0,319.90 L702.5,319.90 L703.0,319.90 L703.5,319.90 L704.0,319.90 L704.5,319.90 L705.0,319.90 L705.5,319.90 L706.0,319.90 L706.5,319.90 L707.0,319.90 L707.5,319.90 L708.0,319.90 L708.5,319.90 L709.0,319.90 L709.5,319.90 L710.0,319.90 L710.5,319.90 L711.0,319.90 L711.5,319.90 L712.0,319.90 L712.5,319.90 L713.0,319.90 L713.5,319.90 L714.0,319.90 L714.5,319.90 L715.0,319.90 L715.5,319.90 L716.0,319.90 L716.5,319.90 L717.0,319.90 L717.5,319.90 L718.0,319.90 L718.5,319.90 L719.0,319.90 L719.5,319.90 L720.0,319.90 L720.5,319.90 L721.0,319.90 L721.5,319.90 L722.0,319.90 L722.5,319.90 L723.0,319.90 L723.5,319.90 L724.0,319.90 L724.5,319.90 L725.0,319.90 L725.5,319.90 L726.0,319.90 L726.5,319.90 L727.0,319.90 L727.5,319.90 L728.0,319.90 L728.5,319.90 L729.0,319.90 L729.5,319.90 L730.0,319.90 L730.5,319.90 L731.0,319.90 L731.5,319.90 L732.0,319.90 L732.5,319.90 L733.0,319.90 L733.5,319.90 L734.0,319.90 L734.5,319.90 L735.0,319.90 L735.5,319.90 L736.0,319.90 L736.5,319.90 L737.0,319.90 L737.5,319.90 L738.0,319.90 L738.5,319.90 L739.0,319.90 L739.5,319.90 L740.0,319.90 L740.5,319.90 L741.0,319.90 L741.5,319.90 L742.0,319.90 L742.5,319.90 L743.0,319.90 L743.5,319.90 L744.0,319.90" fill="none" stroke="#c00000" stroke-width="1.65" stroke-linejoin="round"/>
<path d="M4.0,319.90 L4.5,319.90 L5.0,319.90 L5.5,319.90 L6.0,319.90 L6.5,319.90 L7.0,319.90 L7.5,319.90 L8.0,319.90 L8.5,319.90 L9.0,319.90 L9.5,319.90 L10.0,319.90 L10.5,319.90 L11.0,319.90 L11.5,319.90 L12.0,319.90 L12.5,319.90 L13.0,319.90 L13.5,319.90 L14.0,319.90 L14.5,319.90 L15.0,319.90 L15.5,319.90 L16.0,319.90 L16.5,319.90 L17.0,319.90 L17.5,319.90 L18.0,319.90 L18.5,319.90 L19.0,319.90 L19.5,319.90 L20.0,319.90 L20.5,319.90 L21.0,319.90 L21.5,319.90 L22.0,319.90 L22.5,319.90 L23.0,319.90 L23.5,319.90 L24.0,319.90 L24.5,319.90 L25.0,319.90 L25.5,319.90 L26.0,319.90 L26.5,319.90 L27.0,319.90 L27.5,319.90 L28.0,319.90 L28.5,319.90 L29.0,319.90 L29.5,319.90 L30.0,319.90 L30.5,319.90 L31.0,319.90 L31.5,319.90 L32.0,319.90 L32.5,319.90 L33.0,319.90 L33.5,319.90 L34.0,319.90 L34.5,319.90 L35.0,319.90 L35.5,319.90 L36.0,319.90 L36.5,319.90 L37.0,319.90 L37.5,319.90 L38.0,319.90 L38.5,319.90 L39.0,319.90 L39.5,319.90 L40.0,319.90 L40.5,319.90 L41.0,319.90 L41.5,319.90 L42.0,319.90 L42.5,319.90 L43.0,319.90 L43.5,319.90 L44.0,319.90 L44.5,319.90 L45.0,319.90 L45.5,319.90 L46.0,319.90 L46.5,319.90 L47.0,319.90 L47.5,319.90 L48.0,319.90 L48.5,319.90 L49.0,319.90 L49.5,319.90 L50.0,319.90 L50.5,319.90 L51.0,319.90 L51.5,319.90 L52.0,319.90 L52.5,319.90 L53.0,319.90 L53.5,319.90 L54.0,319.90 L54.5,319.90 L55.0,319.90 L55.5,319.90 L56.0,319.90 L56.5,319.90 L57.0,319.90 L57.5,319.90 L58.0,319.90 L58.5,319.90 L59.0,319.90 L59.5,319.90 L60.0,319.90 L60.5,319.90 L61.0,319.90 L61.5,319.90 L62.0,319.90 L62.5,319.90 L63.0,319.90 L63.5,319.90 L64.0,319.90 L64.5,319.90 L65.0,319.90 L65.5,319.90 L66.0,319.90 L66.5,319.90 L67.0,319.90 L67.5,319.90 L68.0,319.90 L68.5,319.90 L69.0,319.90 L69.5,319.90 L70.0,319.90 L70.5,319.90 L71.0,319.90 L71.5,319.90 L72.0,319.90 L72.5,319.90 L73.0,319.90 L73.5,319.90 L74.0,319.90 L74.5,319.90 L75.0,319.90 L75.5,319.90 L76.0,319.90 L76.5,319.90 L77.0,319.90 L77.5,319.90 L78.0,319.90 L78.5,319.90 L79.0,319.90 L79.5,319.90 L80.0,319.90 L80.5,319.90 L81.0,319.90 L81.5,319.90 L82.0,319.90 L82.5,319.90 L83.0,319.90 L83.5,319.90 L84.0,319.90 L84.5,319.90 L85.0,319.90 L85.5,319.90 L86.0,319.90 L86.5,319.90 L87.0,319.90 L87.5,319.90 L88.0,319.90 L88.5,319.90 L89.0,319.90 L89.5,319.90 L90.0,319.90 L90.5,319.90 L91.0,319.90 L91.5,319.90 L92.0,319.90 L92.5,319.90 L93.0,319.90 L93.5,319.90 L94.0,319.90 L94.5,319.90 L95.0,319.90 L95.5,319.90 L96.0,319.90 L96.5,319.90 L97.0,319.90 L97.5,319.90 L98.0,319.90 L98.5,319.90 L99.0,319.90 L99.5,319.90 L100.0,319.90 L100.5,319.87 L101.0,319.77 L101.5,319.62 L102.0,319.43 L102.5,319.21 L103.0,318.95 L103.5,318.68 L104.0,318.40 L104.5,318.01 L105.0,317.49 L105.5,316.95 L106.0,316.50 L106.5,316.11 L107.0,315.72 L107.5,315.42 L108.0,315.30 L108.5,315.41 L109.0,315.65 L109.5,315.89 L110.0,316.00 L110.5,315.81 L111.0,315.40 L111.5,314.99 L112.0,314.80 L112.5,314.93 L113.0,315.20 L113.5,315.48 L114.0,315.60 L114.5,315.48 L115.0,315.20 L115.5,314.93 L116.0,314.80 L116.5,314.94 L117.0,315.27 L117.5,315.61 L118.0,315.80 L118.5,315.85 L119.0,315.88 L119.5,315.90 L120.0,315.93 L120.5,315.96 L121.0,316.00 L121.5,316.11 L122.0,316.31 L122.5,316.54 L123.0,316.77 L123.5,316.93 L124.0,317.00 L124.5,316.98 L125.0,316.91 L125.5,316.81 L126.0,316.67 L126.5,316.50 L127.0,316.07 L127.5,315.24 L128.0,314.17 L128.5,313.00 L129.0,311.68 L129.5,310.02 L130.0,308.00 L130.5,305.41 L131.0,302.16 L131.5,298.40 L132.0,294.30 L132.5,290.00 L133.0,285.43 L133.5,280.40 L134.0,274.88 L134.5,268.86 L135.0,262.27 L135.5,254.72 L136.0,246.34 L136.5,237.40 L137.0,228.14 L137.5,218.86 L138.0,208.99 L138.5,197.74 L139.0,183.58 L139.5,163.44 L140.0,147.62 L140.5,137.28 L141.0,128.85 L141.5,121.44 L142.0,114.36 L142.5,107.79 L143.0,101.93 L143.5,97.00 L144.0,92.41 L144.5,87.91 L145.0,84.26 L145.5,82.20 L146.0,82.10 L146.5,82.63 L147.0,83.46 L147.5,84.43 L148.0,85.36 L148.5,86.28 L149.0,87.35 L149.5,88.72 L150.0,90.56 L150.5,94.14 L151.0,100.00 L151.5,106.94 L152.0,114.79 L152.5,123.28 L153.0,131.93 L153.5,140.80 L154.0,150.00 L154.5,160.02 L155.0,170.65 L155.5,180.95 L156.0,190.00 L156.5,197.83 L157.0,205.13 L157.5,211.95 L158.0,218.34 L158.5,224.34 L159.0,230.00 L159.5,236.28 L160.0,239.80 L160.5,237.79 L161.0,233.63 L161.5,229.58 L162.0,225.06 L162.5,220.13 L163.0,215.00 L163.5,210.08 L164.0,205.19 L164.5,199.74 L165.0,193.11 L165.5,183.87 L166.0,169.99 L166.5,155.22 L167.0,142.88 L167.5,131.62 L168.0,120.79 L168.5,110.00 L169.0,98.72 L169.5,87.67 L170.0,78.32 L170.5,70.69 L171.0,63.91 L171.5,57.40 L172.0,51.10 L172.5,45.23 L173.0,39.75 L173.5,33.88 L174.0,31.00 L174.5,33.92 L175.0,39.79 L175.5,45.14 L176.0,50.77 L176.5,56.58 L177.0,62.20 L177.5,67.55 L178.0,72.95 L178.5,78.76 L179.0,85.15 L179.5,92.11 L180.0,100.00 L180.5,109.61 L181.0,120.80 L181.5,132.56 L182.0,143.86 L182.5,153.88 L183.0,163.57 L183.5,172.90 L184.0,181.43 L184.5,188.73 L185.0,194.83 L185.5,200.51 L186.0,205.74 L186.5,210.46 L187.0,214.62 L187.5,218.18 L188.0,221.08 L188.5,223.39 L189.0,225.33 L189.5,227.16 L190.0,229.12 L190.5,231.41 L191.0,233.92 L191.5,236.50 L192.0,239.03 L192.5,241.42 L193.0,243.77 L193.5,246.07 L194.0,248.35 L194.5,250.60 L195.0,252.83 L195.5,255.03 L196.0,257.22 L196.5,259.40 L197.0,261.57 L197.5,263.72 L198.0,265.84 L198.5,267.93 L199.0,270.00 L199.5,272.07 L200.0,274.17 L200.5,276.27 L201.0,278.37 L201.5,280.44 L202.0,282.48 L202.5,284.47 L203.0,286.40 L203.5,288.24 L204.0,290.00 L204.5,291.66 L205.0,293.23 L205.5,294.75 L206.0,296.22 L206.5,297.66 L207.0,299.09 L207.5,300.53 L208.0,302.00 L208.5,303.53 L209.0,305.11 L209.5,306.67 L210.0,308.16 L210.5,309.51 L211.0,310.71 L211.5,311.87 L212.0,312.96 L212.5,313.96 L213.0,314.82 L213.5,315.50 L214.0,316.08 L214.5,316.63 L215.0,317.11 L215.5,317.49 L216.0,317.73 L216.5,317.82 L217.0,317.86 L217.5,317.89 L218.0,317.92 L218.5,317.94 L219.0,317.96 L219.5,317.98 L220.0,318.00 L220.5,318.02 L221.0,318.04 L221.5,318.06 L222.0,318.08 L222.5,318.10 L223.0,318.13 L223.5,318.16 L224.0,318.20 L224.5,318.31 L225.0,318.52 L225.5,318.79 L226.0,319.09 L226.5,319.39 L227.0,319.65 L227.5,319.83 L228.0,319.90 L228.5,319.90 L229.0,319.90 L229.5,319.90 L230.0,319.90 L230.5,319.90 L231.0,319.90 L231.5,319.90 L232.0,319.90 L232.5,319.90 L233.0,319.90 L233.5,319.90 L234.0,319.90 L234.5,319.90 L235.0,319.90 L235.5,319.90 L236.0,319.90 L236.5,319.90 L237.0,319.90 L237.5,319.90 L238.0,319.90 L238.5,319.90 L239.0,319.90 L239.5,319.90 L240.0,319.90 L240.5,319.90 L241.0,319.90 L241.5,319.90 L242.0,319.90 L242.5,319.90 L243.0,319.90 L243.5,319.90 L244.0,319.90 L244.5,319.90 L245.0,319.90 L245.5,319.90 L246.0,319.90 L246.5,319.90 L247.0,319.90 L247.5,319.90 L248.0,319.90 L248.5,319.90 L249.0,319.90 L249.5,319.90 L250.0,319.90 L250.5,319.90 L251.0,319.90 L251.5,319.90 L252.0,319.90 L252.5,319.90 L253.0,319.90 L253.5,319.90 L254.0,319.90 L254.5,319.90 L255.0,319.90 L255.5,319.90 L256.0,319.90 L256.5,319.90 L257.0,319.90 L257.5,319.90 L258.0,319.90 L258.5,319.90 L259.0,319.90 L259.5,319.90 L260.0,319.90 L260.5,319.90 L261.0,319.90 L261.5,319.90 L262.0,319.90 L262.5,319.90 L263.0,319.90 L263.5,319.90 L264.0,319.90 L264.5,319.90 L265.0,319.90 L265.5,319.90 L266.0,319.90 L266.5,319.90 L267.0,319.90 L267.5,319.90 L268.0,319.90 L268.5,319.90 L269.0,319.90 L269.5,319.90 L270.0,319.90 L270.5,319.90 L271.0,319.90 L271.5,319.90 L272.0,319.90 L272.5,319.90 L273.0,319.90 L273.5,319.90 L274.0,319.90 L274.5,319.90 L275.0,319.90 L275.5,319.90 L276.0,319.90 L276.5,319.90 L277.0,319.90 L277.5,319.90 L278.0,319.90 L278.5,319.90 L279.0,319.90 L279.5,319.90 L280.0,319.90 L280.5,319.90 L281.0,319.90 L281.5,319.90 L282.0,319.90 L282.5,319.90 L283.0,319.90 L283.5,319.90 L284.0,319.90 L284.5,319.90 L285.0,319.90 L285.5,319.90 L286.0,319.90 L286.5,319.90 L287.0,319.90 L287.5,319.90 L288.0,319.90 L288.5,319.90 L289.0,319.90 L289.5,319.90 L290.0,319.90 L290.5,319.90 L291.0,319.90 L291.5,319.90 L292.0,319.90 L292.5,319.90 L293.0,319.90 L293.5,319.90 L294.0,319.90 L294.5,319.90 L295.0,319.90 L295.5,319.90 L296.0,319.90 L296.5,319.90 L297.0,319.90 L297.5,319.90 L298.0,319.90 L298.5,319.86 L299.0,319.75 L299.5,319.57 L300.0,319.33 L300.5,319.05 L301.0,318.73 L301.5,318.37 L302.0,318.00 L302.5,317.51 L303.0,316.83 L303.5,315.99 L304.0,315.04 L304.5,314.00 L305.0,312.80 L305.5,311.37 L306.0,309.74 L306.5,307.94 L307.0,306.02 L307.5,304.00 L308.0,301.79 L308.5,299.30 L309.0,296.59 L309.5,293.75 L310.0,290.82 L310.5,287.88 L311.0,285.00 L311.5,282.30 L312.0,279.79 L312.5,277.35 L313.0,274.85 L313.5,272.17 L314.0,269.18 L314.5,265.76 L315.0,261.78 L315.5,256.66 L316.0,249.01 L316.5,239.80 L317.0,230.24 L317.5,221.53 L318.0,214.11 L318.5,206.92 L319.0,199.98 L319.5,193.34 L320.0,187.04 L320.5,181.13 L321.0,175.64 L321.5,170.49 L322.0,165.61 L322.5,160.94 L323.0,156.40 L323.5,151.91 L324.0,147.41 L324.5,142.82 L325.0,138.08 L325.5,133.21 L326.0,128.26 L326.5,123.29 L327.0,118.35 L327.5,113.49 L328.0,108.78 L328.5,104.27 L329.0,100.00 L329.5,96.05 L330.0,92.35 L330.5,88.73 L331.0,84.96 L331.5,80.96 L332.0,76.94 L332.5,73.11 L333.0,69.69 L333.5,66.89 L334.0,64.76 L334.5,62.72 L335.0,60.78 L335.5,59.04 L336.0,57.61 L336.5,56.58 L337.0,56.05 L337.5,56.14 L338.0,56.94 L338.5,58.32 L339.0,60.15 L339.5,62.29 L340.0,64.59 L340.5,67.02 L341.0,70.24 L341.5,74.21 L342.0,78.66 L342.5,83.35 L343.0,88.00 L343.5,92.67 L344.0,97.77 L344.5,103.57 L345.0,110.00 L345.5,116.95 L346.0,124.33 L346.5,132.05 L347.0,140.00 L347.5,148.69 L348.0,158.20 L348.5,167.80 L349.0,176.76 L349.5,184.62 L350.0,192.03 L350.5,198.98 L351.0,205.37 L351.5,211.09 L352.0,216.23 L352.5,220.87 L353.0,225.00 L353.5,228.72 L354.0,232.14 L354.5,235.31 L355.0,238.29 L355.5,241.10 L356.0,243.66 L356.5,246.07 L357.0,248.49 L357.5,251.06 L358.0,253.87 L358.5,256.58 L359.0,258.86 L359.5,260.91 L360.0,262.66 L360.5,264.00 L361.0,265.12 L361.5,265.80 L362.0,266.10 L362.5,266.28 L363.0,266.27 L363.5,266.08 L364.0,265.80 L364.5,265.22 L365.0,264.22 L365.5,262.92 L366.0,260.91 L366.5,258.49 L367.0,255.90 L367.5,252.97 L368.0,250.00 L368.5,247.11 L369.0,244.20 L369.5,241.22 L370.0,238.11 L370.5,234.83 L371.0,231.48 L371.5,228.17 L372.0,225.00 L372.5,222.05 L373.0,219.24 L373.5,216.48 L374.0,213.64 L374.5,210.63 L375.0,207.39 L375.5,203.95 L376.0,200.30 L376.5,196.36 L377.0,191.75 L377.5,186.76 L378.0,181.84 L378.5,177.44 L379.0,174.00 L379.5,171.16 L380.0,168.36 L380.5,165.74 L381.0,163.45 L381.5,161.63 L382.0,160.43 L382.5,160.00 L383.0,160.63 L383.5,162.33 L384.0,164.81 L384.5,167.78 L385.0,170.94 L385.5,174.00 L386.0,177.17 L386.5,180.76 L387.0,184.68 L387.5,188.84 L388.0,193.12 L388.5,197.44 L389.0,201.72 L389.5,206.22 L390.0,210.87 L390.5,215.52 L391.0,220.00 L391.5,224.22 L392.0,228.27 L392.5,232.30 L393.0,236.47 L393.5,240.92 L394.0,245.81 L394.5,250.96 L395.0,256.09 L395.5,260.95 L396.0,265.76 L396.5,270.56 L397.0,275.16 L397.5,279.38 L398.0,283.00 L398.5,286.18 L399.0,289.20 L399.5,292.03 L400.0,294.69 L400.5,297.15 L401.0,299.41 L401.5,301.47 L402.0,303.32 L402.5,304.98 L403.0,306.54 L403.5,308.01 L404.0,309.36 L404.5,310.58 L405.0,311.65 L405.5,312.55 L406.0,313.28 L406.5,313.94 L407.0,314.55 L407.5,315.12 L408.0,315.63 L408.5,316.07 L409.0,316.45 L409.5,316.77 L410.0,317.00 L410.5,317.19 L411.0,317.37 L411.5,317.55 L412.0,317.71 L412.5,317.85 L413.0,317.98 L413.5,318.09 L414.0,318.18 L414.5,318.24 L415.0,318.29 L415.5,318.30 L416.0,318.25 L416.5,318.10 L417.0,317.88 L417.5,317.58 L418.0,317.23 L418.5,316.83 L419.0,316.40 L419.5,315.95 L420.0,315.50 L420.5,314.98 L421.0,314.33 L421.5,313.57 L422.0,312.74 L422.5,311.84 L423.0,310.90 L423.5,309.95 L424.0,309.00 L424.5,307.99 L425.0,306.89 L425.5,305.72 L426.0,304.52 L426.5,303.35 L427.0,302.22 L427.5,301.19 L428.0,300.22 L428.5,299.23 L429.0,298.30 L429.5,297.53 L430.0,297.00 L430.5,296.64 L431.0,296.31 L431.5,296.02 L432.0,295.80 L432.5,295.65 L433.0,295.60 L433.5,295.65 L434.0,295.80 L434.5,296.02 L435.0,296.31 L435.5,296.64 L436.0,297.00 L436.5,297.53 L437.0,298.30 L437.5,299.23 L438.0,300.22 L438.5,301.19 L439.0,302.23 L439.5,303.37 L440.0,304.56 L440.5,305.76 L441.0,306.93 L441.5,308.03 L442.0,309.00 L442.5,309.89 L443.0,310.76 L443.5,311.60 L444.0,312.40 L444.5,313.15 L445.0,313.84 L445.5,314.46 L446.0,315.00 L446.5,315.48 L447.0,315.94 L447.5,316.36 L448.0,316.74 L448.5,317.10 L449.0,317.43 L449.5,317.73 L450.0,318.00 L450.5,318.26 L451.0,318.52 L451.5,318.79 L452.0,319.04 L452.5,319.27 L453.0,319.48 L453.5,319.65 L454.0,319.78 L454.5,319.87 L455.0,319.90 L455.5,319.90 L456.0,319.90 L456.5,319.90 L457.0,319.90 L457.5,319.90 L458.0,319.90 L458.5,319.90 L459.0,319.90 L459.5,319.90 L460.0,319.90 L460.5,319.90 L461.0,319.90 L461.5,319.90 L462.0,319.90 L462.5,319.90 L463.0,319.90 L463.5,319.90 L464.0,319.90 L464.5,319.90 L465.0,319.90 L465.5,319.90 L466.0,319.90 L466.5,319.90 L467.0,319.90 L467.5,319.78 L468.0,319.47 L468.5,319.01 L469.0,318.45 L469.5,317.87 L470.0,317.30 L470.5,316.74 L471.0,316.14 L471.5,315.47 L472.0,314.74 L472.5,313.92 L473.0,313.00 L473.5,311.93 L474.0,310.66 L474.5,309.21 L475.0,307.61 L475.5,305.87 L476.0,304.00 L476.5,301.91 L477.0,299.50 L477.5,296.85 L478.0,294.01 L478.5,291.04 L479.0,288.00 L479.5,284.85 L480.0,281.53 L480.5,278.02 L481.0,274.32 L481.5,270.43 L482.0,266.31 L482.5,261.79 L483.0,256.96 L483.5,251.99 L484.0,246.92 L484.5,241.47 L485.0,235.93 L485.5,230.65 L486.0,226.00 L486.5,221.84 L487.0,217.85 L487.5,214.10 L488.0,210.66 L488.5,207.60 L489.0,205.00 L489.5,202.72 L490.0,200.62 L490.5,198.77 L491.0,197.21 L491.5,196.00 L492.0,194.98 L492.5,194.05 L493.0,193.35 L493.5,193.01 L494.0,193.14 L494.5,193.64 L495.0,194.42 L495.5,195.38 L496.0,196.48 L496.5,198.17 L497.0,200.43 L497.5,203.09 L498.0,206.00 L498.5,209.48 L499.0,213.76 L499.5,218.49 L500.0,223.35 L500.5,228.00 L501.0,232.69 L501.5,237.67 L502.0,242.64 L502.5,247.32 L503.0,251.38 L503.5,254.57 L504.0,257.25 L504.5,259.62 L505.0,261.58 L505.5,263.00 L506.0,264.11 L506.5,265.14 L507.0,266.04 L507.5,266.76 L508.0,267.23 L508.5,267.40 L509.0,267.23 L509.5,266.78 L510.0,266.08 L510.5,265.20 L511.0,264.19 L511.5,263.10 L512.0,262.00 L512.5,260.72 L513.0,259.11 L513.5,257.27 L514.0,255.27 L514.5,253.22 L515.0,251.18 L515.5,248.99 L516.0,246.67 L516.5,244.27 L517.0,241.83 L517.5,239.42 L518.0,237.04 L518.5,234.51 L519.0,231.89 L519.5,229.33 L520.0,226.97 L520.5,224.97 L521.0,223.41 L521.5,221.94 L522.0,220.52 L522.5,219.25 L523.0,218.23 L523.5,217.55 L524.0,217.30 L524.5,217.40 L525.0,217.69 L525.5,218.12 L526.0,218.67 L526.5,219.31 L527.0,220.00 L527.5,221.00 L528.0,222.47 L528.5,224.25 L529.0,226.21 L529.5,228.17 L530.0,230.00 L530.5,231.82 L531.0,233.74 L531.5,235.60 L532.0,237.22 L532.5,238.47 L533.0,239.67 L533.5,240.61 L534.0,241.00 L534.5,240.44 L535.0,239.03 L535.5,237.17 L536.0,235.16 L536.5,232.52 L537.0,229.26 L537.5,225.56 L538.0,221.61 L538.5,217.44 L539.0,212.65 L539.5,207.39 L540.0,201.89 L540.5,196.36 L541.0,191.02 L541.5,186.17 L542.0,181.16 L542.5,174.44 L543.0,166.07 L543.5,157.45 L544.0,150.00 L544.5,144.05 L545.0,139.08 L545.5,134.57 L546.0,130.34 L546.5,126.58 L547.0,123.48 L547.5,121.12 L548.0,118.95 L548.5,116.92 L549.0,115.20 L549.5,113.93 L550.0,113.26 L550.5,113.32 L551.0,114.03 L551.5,115.26 L552.0,116.92 L552.5,118.90 L553.0,121.09 L553.5,123.77 L554.0,128.07 L554.5,133.22 L555.0,138.24 L555.5,142.34 L556.0,145.97 L556.5,150.00 L557.0,154.97 L557.5,160.65 L558.0,166.73 L558.5,172.90 L559.0,178.86 L559.5,184.36 L560.0,190.00 L560.5,196.51 L561.0,203.66 L561.5,211.21 L562.0,218.87 L562.5,226.40 L563.0,233.53 L563.5,240.00 L564.0,246.13 L564.5,252.16 L565.0,257.71 L565.5,262.38 L566.0,265.89 L566.5,268.90 L567.0,271.65 L567.5,274.16 L568.0,276.46 L568.5,278.58 L569.0,280.56 L569.5,282.42 L570.0,284.19 L570.5,285.91 L571.0,287.60 L571.5,289.30 L572.0,290.97 L572.5,292.56 L573.0,294.07 L573.5,295.52 L574.0,296.90 L574.5,298.23 L575.0,299.50 L575.5,300.74 L576.0,301.96 L576.5,303.16 L577.0,304.32 L577.5,305.44 L578.0,306.49 L578.5,307.47 L579.0,308.36 L579.5,309.15 L580.0,309.88 L580.5,310.58 L581.0,311.23 L581.5,311.85 L582.0,312.43 L582.5,312.98 L583.0,313.50 L583.5,313.98 L584.0,314.43 L584.5,314.85 L585.0,315.24 L585.5,315.61 L586.0,315.96 L586.5,316.29 L587.0,316.61 L587.5,316.91 L588.0,317.20 L588.5,317.49 L589.0,317.77 L589.5,318.08 L590.0,318.40 L590.5,318.72 L591.0,319.03 L591.5,319.31 L592.0,319.55 L592.5,319.73 L593.0,319.86 L593.5,319.90 L594.0,319.90 L594.5,319.90 L595.0,319.90 L595.5,319.90 L596.0,319.90 L596.5,319.90 L597.0,319.90 L597.5,319.90 L598.0,319.90 L598.5,319.90 L599.0,319.90 L599.5,319.90 L600.0,319.90 L600.5,319.90 L601.0,319.90 L601.5,319.90 L602.0,319.90 L602.5,319.90 L603.0,319.90 L603.5,319.90 L604.0,319.90 L604.5,319.90 L605.0,319.90 L605.5,319.90 L606.0,319.90 L606.5,319.90 L607.0,319.90 L607.5,319.90 L608.0,319.90 L608.5,319.90 L609.0,319.90 L609.5,319.90 L610.0,319.90 L610.5,319.90 L611.0,319.90 L611.5,319.90 L612.0,319.90 L612.5,319.90 L613.0,319.90 L613.5,319.90 L614.0,319.90 L614.5,319.90 L615.0,319.90 L615.5,319.90 L616.0,319.90 L616.5,319.90 L617.0,319.90 L617.5,319.90 L618.0,319.90 L618.5,319.90 L619.0,319.90 L619.5,319.90 L620.0,319.90 L620.5,319.90 L621.0,319.90 L621.5,319.90 L622.0,319.90 L622.5,319.90 L623.0,319.90 L623.5,319.90 L624.0,319.90 L624.5,319.90 L625.0,319.90 L625.5,319.90 L626.0,319.90 L626.5,319.90 L627.0,319.90 L627.5,319.90 L628.0,319.90 L628.5,319.90 L629.0,319.90 L629.5,319.90 L630.0,319.90 L630.5,319.90 L631.0,319.90 L631.5,319.90 L632.0,319.90 L632.5,319.90 L633.0,319.90 L633.5,319.90 L634.0,319.90 L634.5,319.90 L635.0,319.90 L635.5,319.90 L636.0,319.90 L636.5,319.90 L637.0,319.90 L637.5,319.90 L638.0,319.90 L638.5,319.90 L639.0,319.90 L639.5,319.90 L640.0,319.90 L640.5,319.90 L641.0,319.90 L641.5,319.90 L642.0,319.90 L642.5,319.90 L643.0,319.90 L643.5,319.90 L644.0,319.90 L644.5,319.90 L645.0,319.90 L645.5,319.90 L646.0,319.90 L646.5,319.90 L647.0,319.90 L647.5,319.90 L648.0,319.90 L648.5,319.90 L649.0,319.90 L649.5,319.90 L650.0,319.90 L650.5,319.90 L651.0,319.90 L651.5,319.90 L652.0,319.90 L652.5,319.90 L653.0,319.90 L653.5,319.90 L654.0,319.90 L654.5,319.90 L655.0,319.90 L655.5,319.90 L656.0,319.90 L656.5,319.90 L657.0,319.90 L657.5,319.90 L658.0,319.90 L658.5,319.90 L659.0,319.90 L659.5,319.90 L660.0,319.90 L660.5,319.90 L661.0,319.90 L661.5,319.90 L662.0,319.90 L662.5,319.90 L663.0,319.90 L663.5,319.90 L664.0,319.90 L664.5,319.90 L665.0,319.90 L665.5,319.90 L666.0,319.90 L666.5,319.90 L667.0,319.90 L667.5,319.90 L668.0,319.90 L668.5,319.90 L669.0,319.90 L669.5,319.90 L670.0,319.90 L670.5,319.90 L671.0,319.90 L671.5,319.90 L672.0,319.90 L672.5,319.90 L673.0,319.90 L673.5,319.90 L674.0,319.90 L674.5,319.90 L675.0,319.90 L675.5,319.90 L676.0,319.90 L676.5,319.90 L677.0,319.90 L677.5,319.90 L678.0,319.90 L678.5,319.90 L679.0,319.90 L679.5,319.90 L680.0,319.90 L680.5,319.90 L681.0,319.90 L681.5,319.90 L682.0,319.90 L682.5,319.90 L683.0,319.90 L683.5,319.90 L684.0,319.90 L684.5,319.90 L685.0,319.90 L685.5,319.90 L686.0,319.90 L686.5,319.90 L687.0,319.90 L687.5,319.90 L688.0,319.90 L688.5,319.90 L689.0,319.90 L689.5,319.90 L690.0,319.90 L690.5,319.90 L691.0,319.90 L691.5,319.90 L692.0,319.90 L692.5,319.90 L693.0,319.90 L693.5,319.90 L694.0,319.90 L694.5,319.90 L695.0,319.90 L695.5,319.90 L696.0,319.90 L696.5,319.90 L697.0,319.90 L697.5,319.90 L698.0,319.90 L698.5,319.90 L699.0,319.90 L699.5,319.90 L700.0,319.90 L700.5,319.90 L701.0,319.90 L701.5,319.90 L702.0,319.90 L702.5,319.90 L703.0,319.90 L703.5,319.90 L704.0,319.90 L704.5,319.90 L705.0,319.90 L705.5,319.90 L706.0,319.90 L706.5,319.90 L707.0,319.90 L707.5,319.90 L708.0,319.90 L708.5,319.90 L709.0,319.90 L709.5,319.90 L710.0,319.90 L710.5,319.90 L711.0,319.90 L711.5,319.90 L712.0,319.90 L712.5,319.90 L713.0,319.90 L713.5,319.90 L714.0,319.90 L714.5,319.90 L715.0,319.90 L715.5,319.90 L716.0,319.90 L716.5,319.90 L717.0,319.90 L717.5,319.90 L718.0,319.90 L718.5,319.90 L719.0,319.90 L719.5,319.90 L720.0,319.90 L720.5,319.90 L721.0,319.90 L721.5,319.90 L722.0,319.90 L722.5,319.90 L723.0,319.90 L723.5,319.90 L724.0,319.90 L724.5,319.90 L725.0,319.90 L725.5,319.90 L726.0,319.90 L726.5,319.90 L727.0,319.90 L727.5,319.90 L728.0,319.90 L728.5,319.90 L729.0,319.90 L729.5,319.90 L730.0,319.90 L730.5,319.90 L731.0,319.90 L731.5,319.90 L732.0,319.90 L732.5,319.90 L733.0,319.90 L733.5,319.90 L734.0,319.90 L734.5,319.90 L735.0,319.90 L735.5,319.90 L736.0,319.90 L736.5,319.90 L737.0,319.90 L737.5,319.90 L738.0,319.90 L738.5,319.90 L739.0,319.90 L739.5,319.90 L740.0,319.90 L740.5,319.90 L741.0,319.90 L741.5,319.90 L742.0,319.90 L742.5,319.90 L743.0,319.90 L743.5,319.90 L744.0,319.90" fill="none" stroke="#00b0f0" stroke-width="1.75" stroke-linejoin="round"/>
<path d="M460.0,319.90 L460.5,319.90 L461.0,319.90 L461.5,319.90 L462.0,319.90 L462.5,319.90 L463.0,319.90 L463.5,319.90 L464.0,319.90 L464.5,319.90 L465.0,319.90 L465.5,319.90 L466.0,319.90 L466.5,319.90 L467.0,319.90 L467.5,319.90 L468.0,319.90 L468.5,319.79 L469.0,319.50 L469.5,319.07 L470.0,318.57 L470.5,318.02 L471.0,317.50 L471.5,316.98 L472.0,316.40 L472.5,315.78 L473.0,315.09 L473.5,314.33 L474.0,313.50 L474.5,312.57 L475.0,311.53 L475.5,310.38 L476.0,309.12 L476.5,307.74 L477.0,306.26 L477.5,304.67 L478.0,302.93 L478.5,300.91 L479.0,298.64 L479.5,296.17 L480.0,293.54 L480.5,290.80 L481.0,288.00 L481.5,285.02 L482.0,281.77 L482.5,278.34 L483.0,274.84 L483.5,271.36 L484.0,268.00 L484.5,264.76 L485.0,261.57 L485.5,258.39 L486.0,255.20 L486.5,251.97 L487.0,248.65 L487.5,245.15 L488.0,241.60 L488.5,238.16 L489.0,235.00 L489.5,231.98 L490.0,228.96 L490.5,226.15 L491.0,223.76 L491.5,222.00 L492.0,220.63 L492.5,219.35 L493.0,218.29 L493.5,217.57 L494.0,217.30 L494.5,217.56 L495.0,218.28 L495.5,219.33 L496.0,220.61 L496.5,222.00 L497.0,223.82 L497.5,226.34 L498.0,229.34 L498.5,232.63 L499.0,236.00 L499.5,239.89 L500.0,244.43 L500.5,248.95 L501.0,252.80 L501.5,255.58 L502.0,258.06 L502.5,260.28 L503.0,262.22 L503.5,263.80 L504.0,265.00 L504.5,265.97 L505.0,266.90 L505.5,267.76 L506.0,268.55 L506.5,269.24 L507.0,269.80 L507.5,270.23 L508.0,270.51 L508.5,270.60 L509.0,270.39 L509.5,269.83 L510.0,268.96 L510.5,267.88 L511.0,266.64 L511.5,265.33 L512.0,264.00 L512.5,262.50 L513.0,260.66 L513.5,258.57 L514.0,256.32 L514.5,254.00 L515.0,251.46 L515.5,248.62 L516.0,245.65 L516.5,242.72 L517.0,240.00 L517.5,237.41 L518.0,234.79 L518.5,232.25 L519.0,229.88 L519.5,227.76 L520.0,226.00 L520.5,224.40 L521.0,222.80 L521.5,221.33 L522.0,220.12 L522.5,219.30 L523.0,219.00 L523.5,219.12 L524.0,219.44 L524.5,219.94 L525.0,220.56 L525.5,221.26 L526.0,222.00 L526.5,222.99 L527.0,224.36 L527.5,225.98 L528.0,227.71 L528.5,229.43 L529.0,231.00 L529.5,232.50 L530.0,234.05 L530.5,235.54 L531.0,236.89 L531.5,238.00 L532.0,239.00 L532.5,239.94 L533.0,240.61 L533.5,240.78 L534.0,240.21 L534.5,238.96 L535.0,237.21 L535.5,234.84 L536.0,229.86 L536.5,223.55 L537.0,217.81 L537.5,212.23 L538.0,206.56 L538.5,200.90 L539.0,195.35 L539.5,190.00 L540.0,185.19 L540.5,180.00 L541.0,172.85 L541.5,164.32 L542.0,155.82 L542.5,148.74 L543.0,142.95 L543.5,138.20 L544.0,133.81 L544.5,129.75 L545.0,126.18 L545.5,123.31 L546.0,121.24 L546.5,119.39 L547.0,117.66 L547.5,116.13 L548.0,114.89 L548.5,114.00 L549.0,113.54 L549.5,113.60 L550.0,114.21 L550.5,115.30 L551.0,116.78 L551.5,118.60 L552.0,120.67 L552.5,123.14 L553.0,127.57 L553.5,133.27 L554.0,138.97 L554.5,143.93 L555.0,148.94 L555.5,154.48 L556.0,160.46 L556.5,166.65 L557.0,172.85 L557.5,178.84 L558.0,184.38 L558.5,190.00 L559.0,196.51 L559.5,203.66 L560.0,211.21 L560.5,218.87 L561.0,226.40 L561.5,233.53 L562.0,240.00 L562.5,246.14 L563.0,252.18 L563.5,257.73 L564.0,262.39 L564.5,265.87 L565.0,268.86 L565.5,271.57 L566.0,274.04 L566.5,276.31 L567.0,278.40 L567.5,280.35 L568.0,282.18 L568.5,283.92 L569.0,285.62 L569.5,287.28 L570.0,288.96 L570.5,290.63 L571.0,292.23 L571.5,293.76 L572.0,295.22 L572.5,296.62 L573.0,297.96 L573.5,299.25 L574.0,300.49 L574.5,301.72 L575.0,302.92 L575.5,304.09 L576.0,305.22 L576.5,306.28 L577.0,307.28 L577.5,308.19 L578.0,309.00 L578.5,309.74 L579.0,310.44 L579.5,311.10 L580.0,311.73 L580.5,312.32 L581.0,312.87 L581.5,313.40 L582.0,313.88 L582.5,314.34 L583.0,314.77 L583.5,315.17 L584.0,315.55 L584.5,315.91 L585.0,316.26 L585.5,316.58 L586.0,316.89 L586.5,317.17 L587.0,317.44 L587.5,317.70 L588.0,317.97 L588.5,318.24 L589.0,318.52 L589.5,318.78 L590.0,319.04 L590.5,319.27 L591.0,319.48 L591.5,319.65 L592.0,319.79 L592.5,319.87 L593.0,319.90 L593.5,319.90 L594.0,319.90 L594.5,319.90 L595.0,319.90 L595.5,319.90 L596.0,319.90 L596.5,319.90 L597.0,319.90 L597.5,319.90 L598.0,319.90 L598.5,319.90 L599.0,319.90 L599.5,319.90 L600.0,319.90 L600.5,319.90 L601.0,319.90 L601.5,319.90 L602.0,319.90 L602.5,319.90 L603.0,319.90 L603.5,319.90 L604.0,319.90 L604.5,319.90 L605.0,319.90 L605.5,319.90 L606.0,319.90 L606.5,319.90 L607.0,319.90 L607.5,319.90 L608.0,319.90 L608.5,319.90 L609.0,319.90 L609.5,319.90 L610.0,319.90 L610.5,319.90 L611.0,319.90 L611.5,319.90 L612.0,319.90 L612.5,319.90 L613.0,319.90 L613.5,319.90 L614.0,319.90 L614.5,319.90 L615.0,319.90 L615.5,319.90 L616.0,319.90 L616.5,319.90 L617.0,319.90 L617.5,319.90 L618.0,319.90 L618.5,319.90 L619.0,319.90 L619.5,319.90 L620.0,319.90 L620.5,319.90 L621.0,319.90 L621.5,319.90 L622.0,319.90 L622.5,319.90 L623.0,319.90 L623.5,319.90 L624.0,319.90 L624.5,319.90 L625.0,319.90 L625.5,319.90 L626.0,319.90 L626.5,319.90 L627.0,319.90 L627.5,319.90 L628.0,319.90 L628.5,319.90 L629.0,319.90 L629.5,319.90 L630.0,319.90 L630.5,319.90 L631.0,319.90 L631.5,319.90 L632.0,319.90 L632.5,319.90 L633.0,319.90 L633.5,319.90 L634.0,319.90 L634.5,319.90 L635.0,319.90 L635.5,319.90 L636.0,319.90 L636.5,319.90 L637.0,319.90 L637.5,319.90 L638.0,319.90 L638.5,319.90 L639.0,319.90 L639.5,319.90 L640.0,319.90 L640.5,319.90 L641.0,319.90 L641.5,319.90 L642.0,319.90 L642.5,319.90 L643.0,319.90 L643.5,319.90 L644.0,319.90 L644.5,319.90 L645.0,319.90 L645.5,319.90 L646.0,319.90 L646.5,319.90 L647.0,319.90 L647.5,319.90 L648.0,319.90 L648.5,319.90 L649.0,319.90 L649.5,319.90 L650.0,319.90 L650.5,319.90 L651.0,319.90 L651.5,319.90 L652.0,319.90 L652.5,319.90 L653.0,319.90 L653.5,319.90 L654.0,319.90 L654.5,319.90 L655.0,319.90 L655.5,319.90 L656.0,319.90 L656.5,319.90 L657.0,319.90 L657.5,319.90 L658.0,319.90 L658.5,319.90 L659.0,319.90 L659.5,319.90 L660.0,319.90 L660.5,319.90 L661.0,319.90 L661.5,319.90 L662.0,319.90 L662.5,319.90 L663.0,319.90 L663.5,319.90 L664.0,319.90 L664.5,319.90 L665.0,319.90 L665.5,319.90 L666.0,319.90 L666.5,319.90 L667.0,319.90 L667.5,319.90 L668.0,319.90 L668.5,319.90 L669.0,319.90 L669.5,319.90 L670.0,319.90 L670.5,319.90 L671.0,319.90 L671.5,319.90 L672.0,319.90 L672.5,319.90 L673.0,319.90 L673.5,319.90 L674.0,319.90 L674.5,319.90 L675.0,319.90 L675.5,319.90 L676.0,319.90 L676.5,319.90 L677.0,319.90 L677.5,319.90 L678.0,319.90 L678.5,319.90 L679.0,319.90 L679.5,319.90 L680.0,319.90 L680.5,319.90 L681.0,319.90 L681.5,319.90 L682.0,319.90 L682.5,319.90 L683.0,319.90 L683.5,319.90 L684.0,319.90 L684.5,319.90 L685.0,319.90 L685.5,319.90 L686.0,319.90 L686.5,319.90 L687.0,319.90 L687.5,319.90 L688.0,319.90 L688.5,319.90 L689.0,319.90 L689.5,319.90 L690.0,319.90 L690.5,319.90 L691.0,319.90 L691.5,319.90 L692.0,319.90 L692.5,319.90 L693.0,319.90 L693.5,319.90 L694.0,319.90 L694.5,319.90 L695.0,319.90 L695.5,319.90 L696.0,319.90 L696.5,319.90 L697.0,319.90 L697.5,319.90 L698.0,319.90 L698.5,319.90 L699.0,319.90 L699.5,319.90 L700.0,319.90 L700.5,319.90 L701.0,319.90 L701.5,319.90 L702.0,319.90 L702.5,319.90 L703.0,319.90 L703.5,319.90 L704.0,319.90 L704.5,319.90 L705.0,319.90 L705.5,319.90 L706.0,319.90 L706.5,319.90 L707.0,319.90 L707.5,319.90 L708.0,319.90 L708.5,319.90 L709.0,319.90 L709.5,319.90 L710.0,319.90 L710.5,319.90 L711.0,319.90 L711.5,319.90 L712.0,319.90 L712.5,319.90 L713.0,319.90 L713.5,319.90 L714.0,319.90 L714.5,319.90 L715.0,319.90 L715.5,319.90 L716.0,319.90 L716.5,319.90 L717.0,319.90 L717.5,319.90 L718.0,319.90 L718.5,319.90 L719.0,319.90 L719.5,319.90 L720.0,319.90 L720.5,319.90 L721.0,319.90 L721.5,319.90 L722.0,319.90 L722.5,319.90 L723.0,319.90 L723.5,319.90 L724.0,319.90 L724.5,319.90 L725.0,319.90 L725.5,319.90 L726.0,319.90 L726.5,319.90 L727.0,319.90 L727.5,319.90 L728.0,319.90 L728.5,319.90 L729.0,319.90 L729.5,319.90 L730.0,319.90 L730.5,319.90 L731.0,319.90 L731.5,319.90 L732.0,319.90 L732.5,319.90 L733.0,319.90 L733.5,319.90 L734.0,319.90 L734.5,319.90 L735.0,319.90 L735.5,319.90 L736.0,319.90 L736.5,319.90 L737.0,319.90 L737.5,319.90 L738.0,319.90 L738.5,319.90 L739.0,319.90 L739.5,319.90 L740.0,319.90 L740.5,319.90 L741.0,319.90 L741.5,319.90 L742.0,319.90 L742.5,319.90 L743.0,319.90 L743.5,319.90 L744.0,319.90" fill="none" stroke="#000" stroke-width="1.8" stroke-linejoin="round"/>
<rect x="4.1" y="319" width="740.7" height="1.8" fill="#000"/>
<g fill="none" stroke-linecap="butt">
<path d="M217,318.8 L224,318.6 L232,318.9 L240,318.5 L250,318.8 L262,318.5 L270,318.8 L282,318.6 L292,318.8 L301,318.7" stroke="#00b0f0" stroke-width="1.6"/>
<path d="M282,317.6 Q284.5,316.6 287,317.6 Q289.5,316.6 292,317.8" stroke="#000" stroke-width="1.2"/>
<path d="M415,319.05 H592" stroke="#00b0f0" stroke-width="1.35"/>
<path d="M356,318.7 H359 M367,318.7 H372 M389,318.7 H391" stroke="#c00000" stroke-width="0.7"/>
<path d="M596,318.6 H604 M612,318.6 H618 M630,318.6 H640 M648,318.6 H652" stroke="#c03030" stroke-width="0.8"/>
<path d="M711,318.8 H727" stroke="#00b0f0" stroke-width="1.1"/>
<path d="M733,318.9 H744" stroke="#c00000" stroke-width="1.1"/>
<path d="M468,317.7 H490" stroke="#000" stroke-width="1.2"/>
<path d="M662,318.2 L670,317.6 L677,317.2 L686,317.5 L695,317.2 L702,317.7 L708,318.2" stroke="#999" stroke-width="1"/>
<path d="M658,318.6 C664,318.2 668,316.6 674,316 C678,315.6 682,316.2 686,316.3 C690,316.3 692,315.6 696,315.7 C702,316 706,318 712,318.6" stroke="#000" stroke-width="1.1"/>
</g>
<!-- brackets -->
<g fill="none" stroke="#262626" stroke-width="1.35">
<path d="M111.8,35.2 V31.8 Q111.8,30.3 113.3,30.3 H212.9 Q214.4,30.3 214.4,31.8 V35.2"/>
<path d="M163.2,20.8 V30.3"/>
<path d="M302,40.8 V37.8 Q302,36.3 303.5,36.3 H412 Q413.5,36.3 413.5,37.8 V40.8"/>
<path d="M357.6,27 V36.3"/>
<path d="M413.2,116.8 V113.9 Q413.2,112.4 414.7,112.4 H578.5 Q580,112.4 580,113.9 V116.8"/>
<path d="M496.4,103.5 V112.4"/>
</g>
<!-- legend -->
<rect x="553.2" y="40.9" width="32.4" height="1.8" fill="#000"/>
<rect x="553.2" y="60.3" width="32.4" height="1.8" fill="#c00000"/>
<rect x="553.2" y="80" width="32.4" height="1.8" fill="#00b0f0"/>
<g style="font-size:15.55px">
<text x="591.5" y="47">HEC1-Me</text>
<text x="591.5" y="66.6">HEC2-Me</text>
<text x="591.5" y="86.2">HEC3-Me</text>
</g>
<!-- labels -->
<text x="6.9" y="17.4" style="font-size:15.2px">Intens.</text>
<g style="font-size:15.7px">
<text x="88" y="20.5" style="font-size:16px">n(HE)</text>
<text x="159.4" y="20.5" style="font-size:15.2px">1</text>
<text x="352.9" y="25.4" style="font-size:15.2px">2</text>
<text x="492.6" y="99.7" style="font-size:15.2px">3</text>
<text x="320.3" y="53.2">26 + tandem</text>
<text x="355.8" y="71.5">products</text>
<text x="420.6" y="132.5" style="font-size:15.85px">tandem products</text>
<text x="556" y="133.7" style="font-size:15.6px">236</text>
<text x="181.2" y="51.8" style="font-size:15px">2</text>
<text x="140.7" y="76.6" style="font-size:15px">6</text>
<text x="194" y="225.1" style="font-size:15px">3</text>
<text x="377" y="158.7" style="font-size:15px">23</text>
<text x="355" y="239.5" style="font-size:15px">36</text>
</g>
<!-- tick labels -->
<text x="0.8" y="337.5" style="font-size:14.8px">0.850</text>
<text x="81.9" y="337.5" style="font-size:14.8px">0.875</text>
<text x="163.9" y="337.5" style="font-size:14.8px">0.900</text>
<text x="245.6" y="337.5" style="font-size:14.8px">0.925</text>
<text x="327.5" y="337.5" style="font-size:14.8px">0.950</text>
<text x="409.4" y="337.5" style="font-size:14.8px">0.975</text>
<text x="490.8" y="337.5" style="font-size:14.8px">1.000</text>
<text x="573.3" y="337.5" style="font-size:14.8px">1.025</text>
<text x="659.2" y="335.6" textLength="89.6" lengthAdjust="spacingAndGlyphs">1/<tspan font-style="italic">K</tspan><tspan font-style="italic" style="font-size:10px" dy="2.5">0</tspan><tspan dy="-2.5"> [V·s/cm²]</tspan></text>
</svg>
</body></html>
